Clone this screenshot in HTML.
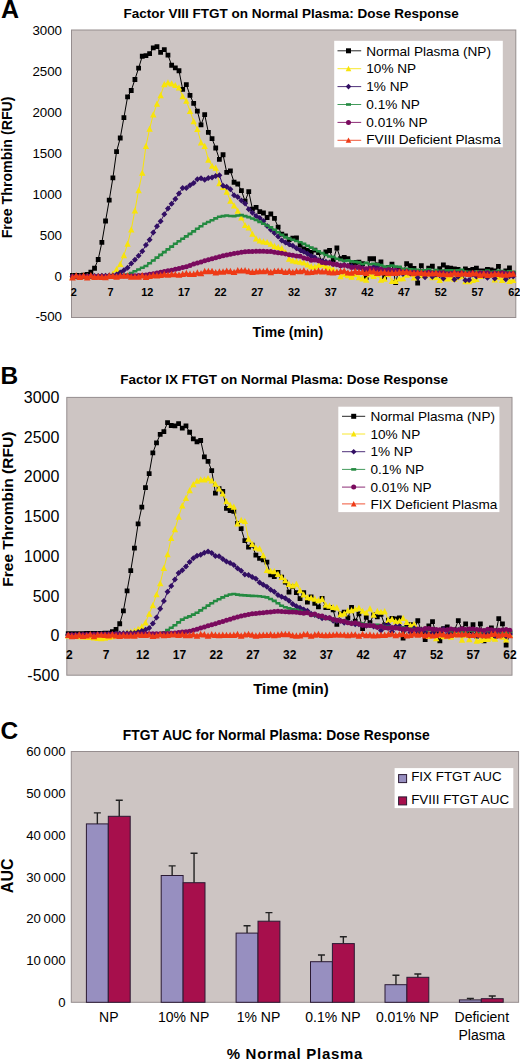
<!DOCTYPE html>
<html><head><meta charset="utf-8"><title>FTGT Dose Response</title>
<style>html,body{margin:0;padding:0;background:#fff;width:520px;height:1060px;overflow:hidden;position:relative;font-family:"Liberation Sans", sans-serif}</style>
</head><body>
<svg width="520" height="1060" viewBox="0 0 520 1060" style="position:absolute;left:0;top:0" font-family='"Liberation Sans", sans-serif' fill="#000">
<rect x="0" y="0" width="520" height="1060" fill="#fff"/>
<rect x="71.5" y="30.0" width="444.29999999999995" height="287.5" fill="#cdc5c3" stroke="#958d8e" stroke-width="1"/>
<text x="1" y="17.7" font-size="25" font-weight="bold" text-anchor="start" >A</text>
<text x="123.5" y="18.3" font-size="13.5" font-weight="bold" text-anchor="start" >Factor VIII FTGT on Normal Plasma: Dose Response</text>
<text x="62" y="34.8" font-size="13.3" font-weight="normal" text-anchor="end" >3000</text>
<text x="62" y="75.87" font-size="13.3" font-weight="normal" text-anchor="end" >2500</text>
<text x="62" y="116.94" font-size="13.3" font-weight="normal" text-anchor="end" >2000</text>
<text x="62" y="158.01" font-size="13.3" font-weight="normal" text-anchor="end" >1500</text>
<text x="62" y="199.09" font-size="13.3" font-weight="normal" text-anchor="end" >1000</text>
<text x="62" y="240.16" font-size="13.3" font-weight="normal" text-anchor="end" >500</text>
<text x="62" y="280.63" font-size="13.3" font-weight="normal" text-anchor="end" >0</text>
<text x="62" y="320.8" font-size="13.3" font-weight="normal" text-anchor="end" >-500</text>
<text transform="translate(11.5,167.4) rotate(-90)" font-size="14.2" font-weight="bold" text-anchor="middle">Free Thrombin (RFU)</text>
<text x="287.8" y="336.5" font-size="14" font-weight="bold" text-anchor="middle" >Time (min)</text>
<rect x="66.8" y="397.4" width="445.2" height="277.80000000000007" fill="#cdc5c3" stroke="#958d8e" stroke-width="1"/>
<text x="0.6" y="383.8" font-size="24.5" font-weight="bold" text-anchor="start" >B</text>
<text x="120.2" y="383.9" font-size="13.5" font-weight="bold" text-anchor="start" >Factor IX FTGT on Normal Plasma: Dose Response</text>
<text x="59.4" y="403.1" font-size="16" font-weight="normal" text-anchor="end" >3000</text>
<text x="59.4" y="442.79" font-size="16" font-weight="normal" text-anchor="end" >2500</text>
<text x="59.4" y="482.47" font-size="16" font-weight="normal" text-anchor="end" >2000</text>
<text x="59.4" y="522.16" font-size="16" font-weight="normal" text-anchor="end" >1500</text>
<text x="59.4" y="561.84" font-size="16" font-weight="normal" text-anchor="end" >1000</text>
<text x="59.4" y="601.53" font-size="16" font-weight="normal" text-anchor="end" >500</text>
<text x="59.4" y="641.21" font-size="16" font-weight="normal" text-anchor="end" >0</text>
<text x="59.4" y="680.9" font-size="16" font-weight="normal" text-anchor="end" >-500</text>
<text transform="translate(12.5,509.2) rotate(-90)" font-size="15.5" font-weight="bold" text-anchor="middle">Free Thrombin (RFU)</text>
<text x="291" y="694.2" font-size="15" font-weight="bold" text-anchor="middle" >Time (min)</text>
<polyline points="72.5,275.49 76.17,275.41 79.84,275.33 83.52,275.25 87.19,274.49 90.86,272.12 94.53,268.23 98.2,259.48 101.88,242.35 105.55,220.98 109.22,200.17 112.89,177.92 116.56,151.65 120.24,137.98 123.91,117.53 127.58,96.86 131.25,90.49 134.92,79.48 138.6,68.13 142.27,56.25 145.94,55.57 149.61,53.65 153.28,47.87 156.96,46.58 160.63,52.41 164.3,49.7 167.97,55.06 171.64,65.23 175.32,67.91 178.99,70.74 182.66,89.28 186.33,84.57 190.0,95.42 193.68,103.35 197.35,111.14 201.02,124.94 204.69,114.58 208.36,132.4 212.04,138.72 215.71,148.01 219.38,159.34 223.05,154.75 226.72,172.46 230.4,170.81 234.07,182.27 237.74,184.0 241.41,190.54 245.08,201.22 248.76,191.65 252.43,209.07 256.1,207.33 259.77,211.69 263.44,213.0 267.12,217.52 270.79,214.01 274.46,218.36 278.13,227.09 281.8,234.17 285.48,235.86 289.15,239.6 292.82,238.1 296.49,237.98 300.16,245.18 303.84,248.87 307.51,250.32 311.18,252.37 314.85,250.22 318.52,252.51 322.2,263.74 325.87,251.94 329.54,250.5 333.21,260.17 336.88,248.01 340.56,258.74 344.23,257.36 347.9,258.75 351.57,264.97 355.24,262.5 358.92,262.19 362.59,263.75 366.26,277.3 369.93,258.75 373.6,258.76 377.28,264.92 380.95,262.0 384.62,277.5 388.29,267.5 391.96,264.12 395.64,282.48 399.31,268.61 402.98,271.48 406.65,263.75 410.32,265.66 414.0,268.49 417.67,282.99 421.34,265.66 425.01,271.48 428.68,268.06 432.36,266.25 436.03,272.45 439.7,268.75 443.37,265.0 447.04,267.53 450.72,268.14 454.39,268.8 458.06,269.38 461.73,273.22 465.4,268.8 469.08,270.52 472.75,269.43 476.42,268.09 480.09,271.0 483.76,271.0 487.44,269.35 491.11,269.94 494.78,271.0 498.45,266.39 502.12,273.54 505.8,271.0 509.47,267.99 513.14,273.65" fill="none" stroke="#000000" stroke-width="1.0" stroke-linejoin="round" opacity="1.0"/>
<path d="M70.10,273.09h4.8v4.8h-4.8zM73.77,273.01h4.8v4.8h-4.8zM77.44,272.93h4.8v4.8h-4.8zM81.12,272.85h4.8v4.8h-4.8zM84.79,272.09h4.8v4.8h-4.8zM88.46,269.72h4.8v4.8h-4.8zM92.13,265.83h4.8v4.8h-4.8zM95.80,257.08h4.8v4.8h-4.8zM99.48,239.95h4.8v4.8h-4.8zM103.15,218.58h4.8v4.8h-4.8zM106.82,197.77h4.8v4.8h-4.8zM110.49,175.52h4.8v4.8h-4.8zM114.16,149.25h4.8v4.8h-4.8zM117.84,135.58h4.8v4.8h-4.8zM121.51,115.13h4.8v4.8h-4.8zM125.18,94.46h4.8v4.8h-4.8zM128.85,88.09h4.8v4.8h-4.8zM132.52,77.08h4.8v4.8h-4.8zM136.20,65.73h4.8v4.8h-4.8zM139.87,53.85h4.8v4.8h-4.8zM143.54,53.17h4.8v4.8h-4.8zM147.21,51.25h4.8v4.8h-4.8zM150.88,45.47h4.8v4.8h-4.8zM154.56,44.18h4.8v4.8h-4.8zM158.23,50.01h4.8v4.8h-4.8zM161.90,47.30h4.8v4.8h-4.8zM165.57,52.66h4.8v4.8h-4.8zM169.24,62.83h4.8v4.8h-4.8zM172.92,65.51h4.8v4.8h-4.8zM176.59,68.34h4.8v4.8h-4.8zM180.26,86.88h4.8v4.8h-4.8zM183.93,82.17h4.8v4.8h-4.8zM187.60,93.02h4.8v4.8h-4.8zM191.28,100.95h4.8v4.8h-4.8zM194.95,108.74h4.8v4.8h-4.8zM198.62,122.54h4.8v4.8h-4.8zM202.29,112.18h4.8v4.8h-4.8zM205.96,130.00h4.8v4.8h-4.8zM209.64,136.32h4.8v4.8h-4.8zM213.31,145.61h4.8v4.8h-4.8zM216.98,156.94h4.8v4.8h-4.8zM220.65,152.35h4.8v4.8h-4.8zM224.32,170.06h4.8v4.8h-4.8zM228.00,168.41h4.8v4.8h-4.8zM231.67,179.87h4.8v4.8h-4.8zM235.34,181.60h4.8v4.8h-4.8zM239.01,188.14h4.8v4.8h-4.8zM242.68,198.82h4.8v4.8h-4.8zM246.36,189.25h4.8v4.8h-4.8zM250.03,206.67h4.8v4.8h-4.8zM253.70,204.93h4.8v4.8h-4.8zM257.37,209.29h4.8v4.8h-4.8zM261.04,210.60h4.8v4.8h-4.8zM264.72,215.12h4.8v4.8h-4.8zM268.39,211.61h4.8v4.8h-4.8zM272.06,215.96h4.8v4.8h-4.8zM275.73,224.69h4.8v4.8h-4.8zM279.40,231.77h4.8v4.8h-4.8zM283.08,233.46h4.8v4.8h-4.8zM286.75,237.20h4.8v4.8h-4.8zM290.42,235.70h4.8v4.8h-4.8zM294.09,235.58h4.8v4.8h-4.8zM297.76,242.78h4.8v4.8h-4.8zM301.44,246.47h4.8v4.8h-4.8zM305.11,247.92h4.8v4.8h-4.8zM308.78,249.97h4.8v4.8h-4.8zM312.45,247.82h4.8v4.8h-4.8zM316.12,250.11h4.8v4.8h-4.8zM319.80,261.34h4.8v4.8h-4.8zM323.47,249.54h4.8v4.8h-4.8zM327.14,248.10h4.8v4.8h-4.8zM330.81,257.77h4.8v4.8h-4.8zM334.48,245.61h4.8v4.8h-4.8zM338.16,256.34h4.8v4.8h-4.8zM341.83,254.96h4.8v4.8h-4.8zM345.50,256.35h4.8v4.8h-4.8zM349.17,262.57h4.8v4.8h-4.8zM352.84,260.10h4.8v4.8h-4.8zM356.52,259.79h4.8v4.8h-4.8zM360.19,261.35h4.8v4.8h-4.8zM363.86,274.90h4.8v4.8h-4.8zM367.53,256.35h4.8v4.8h-4.8zM371.20,256.36h4.8v4.8h-4.8zM374.88,262.52h4.8v4.8h-4.8zM378.55,259.60h4.8v4.8h-4.8zM382.22,275.10h4.8v4.8h-4.8zM385.89,265.10h4.8v4.8h-4.8zM389.56,261.72h4.8v4.8h-4.8zM393.24,280.08h4.8v4.8h-4.8zM396.91,266.21h4.8v4.8h-4.8zM400.58,269.08h4.8v4.8h-4.8zM404.25,261.35h4.8v4.8h-4.8zM407.92,263.26h4.8v4.8h-4.8zM411.60,266.09h4.8v4.8h-4.8zM415.27,280.59h4.8v4.8h-4.8zM418.94,263.26h4.8v4.8h-4.8zM422.61,269.08h4.8v4.8h-4.8zM426.28,265.66h4.8v4.8h-4.8zM429.96,263.85h4.8v4.8h-4.8zM433.63,270.05h4.8v4.8h-4.8zM437.30,266.35h4.8v4.8h-4.8zM440.97,262.60h4.8v4.8h-4.8zM444.64,265.13h4.8v4.8h-4.8zM448.32,265.74h4.8v4.8h-4.8zM451.99,266.40h4.8v4.8h-4.8zM455.66,266.98h4.8v4.8h-4.8zM459.33,270.82h4.8v4.8h-4.8zM463.00,266.40h4.8v4.8h-4.8zM466.68,268.12h4.8v4.8h-4.8zM470.35,267.03h4.8v4.8h-4.8zM474.02,265.69h4.8v4.8h-4.8zM477.69,268.60h4.8v4.8h-4.8zM481.36,268.60h4.8v4.8h-4.8zM485.04,266.95h4.8v4.8h-4.8zM488.71,267.54h4.8v4.8h-4.8zM492.38,268.60h4.8v4.8h-4.8zM496.05,263.99h4.8v4.8h-4.8zM499.72,271.14h4.8v4.8h-4.8zM503.40,268.60h4.8v4.8h-4.8zM507.07,265.59h4.8v4.8h-4.8zM510.74,271.25h4.8v4.8h-4.8z" fill="#000000"/>
<polyline points="72.5,276.49 76.17,276.44 79.84,276.39 83.52,276.34 87.19,276.29 90.86,276.24 94.53,276.19 98.2,276.14 101.88,276.09 105.55,276.03 109.22,275.69 112.89,273.88 116.56,269.22 120.24,264.12 123.91,255.34 127.58,243.84 131.25,229.49 134.92,210.57 138.6,190.25 142.27,172.89 145.94,145.98 149.61,128.88 153.28,114.59 156.96,103.84 160.63,95.25 164.3,84.42 167.97,82.57 171.64,83.55 175.32,85.18 178.99,87.49 182.66,96.34 186.33,100.93 190.0,111.01 193.68,121.39 197.35,129.2 201.02,142.58 204.69,146.0 208.36,159.82 212.04,165.92 215.71,167.86 219.38,183.32 223.05,187.2 226.72,191.8 230.4,200.89 234.07,205.57 237.74,210.76 241.41,217.52 245.08,225.21 248.76,227.5 252.43,233.93 256.1,238.65 259.77,240.63 263.44,241.49 267.12,242.22 270.79,243.87 274.46,246.08 278.13,247.22 281.8,248.27 285.48,252.31 289.15,258.92 292.82,260.61 296.49,261.33 300.16,261.94 303.84,262.67 307.51,264.5 311.18,266.34 314.85,266.82 318.52,264.99 322.2,264.31 325.87,266.05 329.54,267.78 333.21,269.24 336.88,271.9 340.56,276.39 344.23,274.01 347.9,275.43 351.57,276.9 355.24,274.39 358.92,277.43 362.59,278.49 366.26,279.73 369.93,274.42 373.6,276.01 377.28,274.39 380.95,279.85 384.62,278.97 388.29,274.02 391.96,281.16 395.64,281.03 399.31,278.67 402.98,278.38 406.65,274.9 410.32,273.81 414.0,277.72 417.67,274.15 421.34,275.15 425.01,275.54 428.68,273.93 432.36,277.23 436.03,277.05 439.7,280.1 443.37,277.65 447.04,278.57 450.72,277.5 454.39,278.73 458.06,277.18 461.73,275.81 465.4,281.28 469.08,281.27 472.75,280.09 476.42,279.08 480.09,276.1 483.76,275.45 487.44,275.9 491.11,274.23 494.78,279.52 498.45,276.74 502.12,280.13 505.8,276.64 509.47,280.98 513.14,280.14" fill="none" stroke="#f8e40a" stroke-width="1.0" stroke-linejoin="round" opacity="1.0"/>
<path d="M72.50,273.19L75.70,279.39L69.30,279.39zM76.17,273.14L79.37,279.34L72.97,279.34zM79.84,273.09L83.04,279.29L76.64,279.29zM83.52,273.04L86.72,279.24L80.32,279.24zM87.19,272.99L90.39,279.19L83.99,279.19zM90.86,272.94L94.06,279.14L87.66,279.14zM94.53,272.89L97.73,279.09L91.33,279.09zM98.20,272.84L101.40,279.04L95.00,279.04zM101.88,272.79L105.08,278.99L98.68,278.99zM105.55,272.73L108.75,278.93L102.35,278.93zM109.22,272.39L112.42,278.59L106.02,278.59zM112.89,270.58L116.09,276.78L109.69,276.78zM116.56,265.92L119.76,272.12L113.36,272.12zM120.24,260.82L123.44,267.02L117.04,267.02zM123.91,252.04L127.11,258.24L120.71,258.24zM127.58,240.54L130.78,246.74L124.38,246.74zM131.25,226.19L134.45,232.39L128.05,232.39zM134.92,207.27L138.12,213.47L131.72,213.47zM138.60,186.95L141.80,193.15L135.40,193.15zM142.27,169.59L145.47,175.79L139.07,175.79zM145.94,142.68L149.14,148.88L142.74,148.88zM149.61,125.58L152.81,131.78L146.41,131.78zM153.28,111.29L156.48,117.49L150.08,117.49zM156.96,100.54L160.16,106.74L153.76,106.74zM160.63,91.95L163.83,98.15L157.43,98.15zM164.30,81.12L167.50,87.32L161.10,87.32zM167.97,79.27L171.17,85.47L164.77,85.47zM171.64,80.25L174.84,86.45L168.44,86.45zM175.32,81.88L178.52,88.08L172.12,88.08zM178.99,84.19L182.19,90.39L175.79,90.39zM182.66,93.04L185.86,99.24L179.46,99.24zM186.33,97.63L189.53,103.83L183.13,103.83zM190.00,107.71L193.20,113.91L186.80,113.91zM193.68,118.09L196.88,124.29L190.48,124.29zM197.35,125.90L200.55,132.10L194.15,132.10zM201.02,139.28L204.22,145.48L197.82,145.48zM204.69,142.70L207.89,148.90L201.49,148.90zM208.36,156.52L211.56,162.72L205.16,162.72zM212.04,162.62L215.24,168.82L208.84,168.82zM215.71,164.56L218.91,170.76L212.51,170.76zM219.38,180.02L222.58,186.22L216.18,186.22zM223.05,183.90L226.25,190.10L219.85,190.10zM226.72,188.50L229.92,194.70L223.52,194.70zM230.40,197.59L233.60,203.79L227.20,203.79zM234.07,202.27L237.27,208.47L230.87,208.47zM237.74,207.46L240.94,213.66L234.54,213.66zM241.41,214.22L244.61,220.42L238.21,220.42zM245.08,221.91L248.28,228.11L241.88,228.11zM248.76,224.20L251.96,230.40L245.56,230.40zM252.43,230.63L255.63,236.83L249.23,236.83zM256.10,235.35L259.30,241.55L252.90,241.55zM259.77,237.33L262.97,243.53L256.57,243.53zM263.44,238.19L266.64,244.39L260.24,244.39zM267.12,238.92L270.32,245.12L263.92,245.12zM270.79,240.57L273.99,246.77L267.59,246.77zM274.46,242.78L277.66,248.98L271.26,248.98zM278.13,243.92L281.33,250.12L274.93,250.12zM281.80,244.97L285.00,251.17L278.60,251.17zM285.48,249.01L288.68,255.21L282.28,255.21zM289.15,255.62L292.35,261.82L285.95,261.82zM292.82,257.31L296.02,263.51L289.62,263.51zM296.49,258.03L299.69,264.23L293.29,264.23zM300.16,258.64L303.36,264.84L296.96,264.84zM303.84,259.37L307.04,265.57L300.64,265.57zM307.51,261.20L310.71,267.40L304.31,267.40zM311.18,263.04L314.38,269.24L307.98,269.24zM314.85,263.52L318.05,269.72L311.65,269.72zM318.52,261.69L321.72,267.89L315.32,267.89zM322.20,261.01L325.40,267.21L319.00,267.21zM325.87,262.75L329.07,268.95L322.67,268.95zM329.54,264.48L332.74,270.68L326.34,270.68zM333.21,265.94L336.41,272.14L330.01,272.14zM336.88,268.60L340.08,274.80L333.68,274.80zM340.56,273.09L343.76,279.29L337.36,279.29zM344.23,270.71L347.43,276.91L341.03,276.91zM347.90,272.13L351.10,278.33L344.70,278.33zM351.57,273.60L354.77,279.80L348.37,279.80zM355.24,271.09L358.44,277.29L352.04,277.29zM358.92,274.13L362.12,280.33L355.72,280.33zM362.59,275.19L365.79,281.39L359.39,281.39zM366.26,276.43L369.46,282.63L363.06,282.63zM369.93,271.12L373.13,277.32L366.73,277.32zM373.60,272.71L376.80,278.91L370.40,278.91zM377.28,271.09L380.48,277.29L374.08,277.29zM380.95,276.55L384.15,282.75L377.75,282.75zM384.62,275.67L387.82,281.87L381.42,281.87zM388.29,270.72L391.49,276.92L385.09,276.92zM391.96,277.86L395.16,284.06L388.76,284.06zM395.64,277.73L398.84,283.93L392.44,283.93zM399.31,275.37L402.51,281.57L396.11,281.57zM402.98,275.08L406.18,281.28L399.78,281.28zM406.65,271.60L409.85,277.80L403.45,277.80zM410.32,270.51L413.52,276.71L407.12,276.71zM414.00,274.42L417.20,280.62L410.80,280.62zM417.67,270.85L420.87,277.05L414.47,277.05zM421.34,271.85L424.54,278.05L418.14,278.05zM425.01,272.24L428.21,278.44L421.81,278.44zM428.68,270.63L431.88,276.83L425.48,276.83zM432.36,273.93L435.56,280.13L429.16,280.13zM436.03,273.75L439.23,279.95L432.83,279.95zM439.70,276.80L442.90,283.00L436.50,283.00zM443.37,274.35L446.57,280.55L440.17,280.55zM447.04,275.27L450.24,281.47L443.84,281.47zM450.72,274.20L453.92,280.40L447.52,280.40zM454.39,275.43L457.59,281.63L451.19,281.63zM458.06,273.88L461.26,280.08L454.86,280.08zM461.73,272.51L464.93,278.71L458.53,278.71zM465.40,277.98L468.60,284.18L462.20,284.18zM469.08,277.97L472.28,284.17L465.88,284.17zM472.75,276.79L475.95,282.99L469.55,282.99zM476.42,275.78L479.62,281.98L473.22,281.98zM480.09,272.80L483.29,279.00L476.89,279.00zM483.76,272.15L486.96,278.35L480.56,278.35zM487.44,272.60L490.64,278.80L484.24,278.80zM491.11,270.93L494.31,277.13L487.91,277.13zM494.78,276.22L497.98,282.42L491.58,282.42zM498.45,273.44L501.65,279.64L495.25,279.64zM502.12,276.83L505.32,283.03L498.92,283.03zM505.80,273.34L509.00,279.54L502.60,279.54zM509.47,277.68L512.67,283.88L506.27,283.88zM513.14,276.84L516.34,283.04L509.94,283.04z" fill="#f8e40a"/>
<polyline points="72.5,276.49 76.17,276.4 79.84,276.31 83.52,276.23 87.19,276.14 90.86,276.05 94.53,275.96 98.2,275.88 101.88,275.79 105.55,275.7 109.22,275.61 112.89,275.53 116.56,274.54 120.24,272.55 123.91,270.17 127.58,267.64 131.25,263.6 134.92,259.83 138.6,255.82 142.27,251.22 145.94,245.1 149.61,239.7 153.28,232.5915891385135 156.96,226.25305306522435 160.63,221.303169213417 164.3,214.3599081385804 167.97,208.5816106032804 171.64,203.8216040992424 175.32,198.91550990684067 178.99,193.4975966937777 182.66,187.88582123881815 186.33,187.894682434451 190.0,185.18627281345255 193.68,182.98335918230194 197.35,179.25361495169457 201.02,178.23028390202876 204.69,179.63654628104592 208.36,178.09662653399434 212.04,177.47662261422914 215.71,175.88188580383695 219.38,175.18872085942 223.05,185.82359521705183 226.72,186.71678904670225 230.4,189.18477821610804 234.07,195.13330231724171 237.74,197.11829843229535 241.41,200.41349410802783 245.08,203.3936229343385 248.76,209.16292431941312 252.43,212.67010417279204 256.1,215.93344831705704 259.77,217.88085107914455 263.44,221.1119249558759 267.12,226.05246222536843 270.79,229.77042189878134 274.46,233.04215059257635 278.13,236.51592565118702 281.8,240.4099055696788 285.48,242.52202291481623 289.15,244.17187965852006 292.82,245.65769917161091 296.49,248.24315643194873 300.16,250.09144095757628 303.84,251.66552313269847 307.51,253.86372705644905 311.18,255.92255800337958 314.85,257.44981335840527 318.52,260.13791239722946 322.2,261.1091459799767 325.87,261.6813770569677 329.54,262.43442444992144 333.21,263.93342477500823 336.88,264.53940801794835 340.56,265.46242746102297 344.23,264.7928490319719 347.9,265.74770936638566 351.57,265.97104655489306 355.24,267.7106870823057 358.92,267.96509318185883 362.59,268.06 366.26,269.88 369.93,270.35 373.6,267.08 377.28,266.57 380.95,269.52 384.62,269.22 388.29,273.37 391.96,272.95 395.64,272.77 399.31,272.9 402.98,274.07 406.65,270.9 410.32,273.4 414.0,271.9 417.67,277.45 421.34,271.75 425.01,277.29 428.68,272.32 432.36,276.83 436.03,274.61 439.7,275.31 443.37,278.51 447.04,272.87 450.72,273.28 454.39,279.38 458.06,276.66 461.73,273.86 465.4,280.26 469.08,280.1 472.75,274.29 476.42,276.46 480.09,274.45 483.76,275.69 487.44,277.85 491.11,274.64 494.78,278.38 498.45,273.86 502.12,274.7 505.8,279.21 509.47,276.3 513.14,276.43" fill="none" stroke="#320f64" stroke-width="1.0" stroke-linejoin="round" opacity="1.0"/>
<path d="M72.50,273.49L75.50,276.49L72.50,279.49L69.50,276.49zM76.17,273.40L79.17,276.40L76.17,279.40L73.17,276.40zM79.84,273.31L82.84,276.31L79.84,279.31L76.84,276.31zM83.52,273.23L86.52,276.23L83.52,279.23L80.52,276.23zM87.19,273.14L90.19,276.14L87.19,279.14L84.19,276.14zM90.86,273.05L93.86,276.05L90.86,279.05L87.86,276.05zM94.53,272.96L97.53,275.96L94.53,278.96L91.53,275.96zM98.20,272.88L101.20,275.88L98.20,278.88L95.20,275.88zM101.88,272.79L104.88,275.79L101.88,278.79L98.88,275.79zM105.55,272.70L108.55,275.70L105.55,278.70L102.55,275.70zM109.22,272.61L112.22,275.61L109.22,278.61L106.22,275.61zM112.89,272.53L115.89,275.53L112.89,278.53L109.89,275.53zM116.56,271.54L119.56,274.54L116.56,277.54L113.56,274.54zM120.24,269.55L123.24,272.55L120.24,275.55L117.24,272.55zM123.91,267.17L126.91,270.17L123.91,273.17L120.91,270.17zM127.58,264.64L130.58,267.64L127.58,270.64L124.58,267.64zM131.25,260.60L134.25,263.60L131.25,266.60L128.25,263.60zM134.92,256.83L137.92,259.83L134.92,262.83L131.92,259.83zM138.60,252.82L141.60,255.82L138.60,258.82L135.60,255.82zM142.27,248.22L145.27,251.22L142.27,254.22L139.27,251.22zM145.94,242.10L148.94,245.10L145.94,248.10L142.94,245.10zM149.61,236.70L152.61,239.70L149.61,242.70L146.61,239.70zM153.28,229.59L156.28,232.59L153.28,235.59L150.28,232.59zM156.96,223.25L159.96,226.25L156.96,229.25L153.96,226.25zM160.63,218.30L163.63,221.30L160.63,224.30L157.63,221.30zM164.30,211.36L167.30,214.36L164.30,217.36L161.30,214.36zM167.97,205.58L170.97,208.58L167.97,211.58L164.97,208.58zM171.64,200.82L174.64,203.82L171.64,206.82L168.64,203.82zM175.32,195.92L178.32,198.92L175.32,201.92L172.32,198.92zM178.99,190.50L181.99,193.50L178.99,196.50L175.99,193.50zM182.66,184.89L185.66,187.89L182.66,190.89L179.66,187.89zM186.33,184.89L189.33,187.89L186.33,190.89L183.33,187.89zM190.00,182.19L193.00,185.19L190.00,188.19L187.00,185.19zM193.68,179.98L196.68,182.98L193.68,185.98L190.68,182.98zM197.35,176.25L200.35,179.25L197.35,182.25L194.35,179.25zM201.02,175.23L204.02,178.23L201.02,181.23L198.02,178.23zM204.69,176.64L207.69,179.64L204.69,182.64L201.69,179.64zM208.36,175.10L211.36,178.10L208.36,181.10L205.36,178.10zM212.04,174.48L215.04,177.48L212.04,180.48L209.04,177.48zM215.71,172.88L218.71,175.88L215.71,178.88L212.71,175.88zM219.38,172.19L222.38,175.19L219.38,178.19L216.38,175.19zM223.05,182.82L226.05,185.82L223.05,188.82L220.05,185.82zM226.72,183.72L229.72,186.72L226.72,189.72L223.72,186.72zM230.40,186.18L233.40,189.18L230.40,192.18L227.40,189.18zM234.07,192.13L237.07,195.13L234.07,198.13L231.07,195.13zM237.74,194.12L240.74,197.12L237.74,200.12L234.74,197.12zM241.41,197.41L244.41,200.41L241.41,203.41L238.41,200.41zM245.08,200.39L248.08,203.39L245.08,206.39L242.08,203.39zM248.76,206.16L251.76,209.16L248.76,212.16L245.76,209.16zM252.43,209.67L255.43,212.67L252.43,215.67L249.43,212.67zM256.10,212.93L259.10,215.93L256.10,218.93L253.10,215.93zM259.77,214.88L262.77,217.88L259.77,220.88L256.77,217.88zM263.44,218.11L266.44,221.11L263.44,224.11L260.44,221.11zM267.12,223.05L270.12,226.05L267.12,229.05L264.12,226.05zM270.79,226.77L273.79,229.77L270.79,232.77L267.79,229.77zM274.46,230.04L277.46,233.04L274.46,236.04L271.46,233.04zM278.13,233.52L281.13,236.52L278.13,239.52L275.13,236.52zM281.80,237.41L284.80,240.41L281.80,243.41L278.80,240.41zM285.48,239.52L288.48,242.52L285.48,245.52L282.48,242.52zM289.15,241.17L292.15,244.17L289.15,247.17L286.15,244.17zM292.82,242.66L295.82,245.66L292.82,248.66L289.82,245.66zM296.49,245.24L299.49,248.24L296.49,251.24L293.49,248.24zM300.16,247.09L303.16,250.09L300.16,253.09L297.16,250.09zM303.84,248.67L306.84,251.67L303.84,254.67L300.84,251.67zM307.51,250.86L310.51,253.86L307.51,256.86L304.51,253.86zM311.18,252.92L314.18,255.92L311.18,258.92L308.18,255.92zM314.85,254.45L317.85,257.45L314.85,260.45L311.85,257.45zM318.52,257.14L321.52,260.14L318.52,263.14L315.52,260.14zM322.20,258.11L325.20,261.11L322.20,264.11L319.20,261.11zM325.87,258.68L328.87,261.68L325.87,264.68L322.87,261.68zM329.54,259.43L332.54,262.43L329.54,265.43L326.54,262.43zM333.21,260.93L336.21,263.93L333.21,266.93L330.21,263.93zM336.88,261.54L339.88,264.54L336.88,267.54L333.88,264.54zM340.56,262.46L343.56,265.46L340.56,268.46L337.56,265.46zM344.23,261.79L347.23,264.79L344.23,267.79L341.23,264.79zM347.90,262.75L350.90,265.75L347.90,268.75L344.90,265.75zM351.57,262.97L354.57,265.97L351.57,268.97L348.57,265.97zM355.24,264.71L358.24,267.71L355.24,270.71L352.24,267.71zM358.92,264.97L361.92,267.97L358.92,270.97L355.92,267.97zM362.59,265.06L365.59,268.06L362.59,271.06L359.59,268.06zM366.26,266.88L369.26,269.88L366.26,272.88L363.26,269.88zM369.93,267.35L372.93,270.35L369.93,273.35L366.93,270.35zM373.60,264.08L376.60,267.08L373.60,270.08L370.60,267.08zM377.28,263.57L380.28,266.57L377.28,269.57L374.28,266.57zM380.95,266.52L383.95,269.52L380.95,272.52L377.95,269.52zM384.62,266.22L387.62,269.22L384.62,272.22L381.62,269.22zM388.29,270.37L391.29,273.37L388.29,276.37L385.29,273.37zM391.96,269.95L394.96,272.95L391.96,275.95L388.96,272.95zM395.64,269.77L398.64,272.77L395.64,275.77L392.64,272.77zM399.31,269.90L402.31,272.90L399.31,275.90L396.31,272.90zM402.98,271.07L405.98,274.07L402.98,277.07L399.98,274.07zM406.65,267.90L409.65,270.90L406.65,273.90L403.65,270.90zM410.32,270.40L413.32,273.40L410.32,276.40L407.32,273.40zM414.00,268.90L417.00,271.90L414.00,274.90L411.00,271.90zM417.67,274.45L420.67,277.45L417.67,280.45L414.67,277.45zM421.34,268.75L424.34,271.75L421.34,274.75L418.34,271.75zM425.01,274.29L428.01,277.29L425.01,280.29L422.01,277.29zM428.68,269.32L431.68,272.32L428.68,275.32L425.68,272.32zM432.36,273.83L435.36,276.83L432.36,279.83L429.36,276.83zM436.03,271.61L439.03,274.61L436.03,277.61L433.03,274.61zM439.70,272.31L442.70,275.31L439.70,278.31L436.70,275.31zM443.37,275.51L446.37,278.51L443.37,281.51L440.37,278.51zM447.04,269.87L450.04,272.87L447.04,275.87L444.04,272.87zM450.72,270.28L453.72,273.28L450.72,276.28L447.72,273.28zM454.39,276.38L457.39,279.38L454.39,282.38L451.39,279.38zM458.06,273.66L461.06,276.66L458.06,279.66L455.06,276.66zM461.73,270.86L464.73,273.86L461.73,276.86L458.73,273.86zM465.40,277.26L468.40,280.26L465.40,283.26L462.40,280.26zM469.08,277.10L472.08,280.10L469.08,283.10L466.08,280.10zM472.75,271.29L475.75,274.29L472.75,277.29L469.75,274.29zM476.42,273.46L479.42,276.46L476.42,279.46L473.42,276.46zM480.09,271.45L483.09,274.45L480.09,277.45L477.09,274.45zM483.76,272.69L486.76,275.69L483.76,278.69L480.76,275.69zM487.44,274.85L490.44,277.85L487.44,280.85L484.44,277.85zM491.11,271.64L494.11,274.64L491.11,277.64L488.11,274.64zM494.78,275.38L497.78,278.38L494.78,281.38L491.78,278.38zM498.45,270.86L501.45,273.86L498.45,276.86L495.45,273.86zM502.12,271.70L505.12,274.70L502.12,277.70L499.12,274.70zM505.80,276.21L508.80,279.21L505.80,282.21L502.80,279.21zM509.47,273.30L512.47,276.30L509.47,279.30L506.47,276.30zM513.14,273.43L516.14,276.43L513.14,279.43L510.14,276.43z" fill="#320f64"/>
<polyline points="72.5,276.49 76.17,276.41 79.84,276.34 83.52,276.26 87.19,276.18 90.86,276.11 94.53,276.03 98.2,275.95 101.88,275.88 105.55,275.8 109.22,275.72 112.89,275.65 116.56,275.57 120.24,275.47 123.91,274.95 127.58,274.43 131.25,272.99 134.92,271.25 138.6,269.51 142.27,267.77 145.94,266.03 149.61,263.25 153.28,260.46 156.96,257.67 160.63,254.88 164.3,252.11 167.97,249.35 171.64,246.58 175.32,243.82 178.99,241.29 182.66,238.82 186.33,236.34 190.0,233.87 193.68,231.33 197.35,228.76 201.02,226.19 204.69,223.82 208.36,222.03 212.04,220.23 215.71,218.4 219.38,216.82 223.05,216.09 226.72,215.57 230.4,215.94 234.07,216.16 237.74,215.54 241.41,215.11 245.08,216.09 248.76,217.1 252.43,218.57 256.1,220.05 259.77,221.89 263.44,223.72 267.12,225.56 270.79,227.39 274.46,229.81 278.13,232.25 281.8,234.7 285.48,237.15 289.15,238.55 292.82,239.77 296.49,241.0 300.16,242.22 303.84,243.92 307.51,245.75 311.18,247.59 314.85,249.43 318.52,251.26 322.2,253.1 325.87,254.93 329.54,256.51 333.21,256.85 336.88,258.79 340.56,259.71 344.23,261.02 347.9,260.35 351.57,261.37 355.24,261.83 358.92,262.38 362.59,263.97 366.26,262.89 369.93,264.22 373.6,263.82 377.28,264.38 380.95,265.14 384.62,266.58 388.29,266.48 391.96,265.52 395.64,266.6 399.31,266.72 402.98,268.76 406.65,268.92 410.32,269.22 414.0,269.57 417.67,269.68 421.34,270.48 425.01,270.41 428.68,269.42 432.36,270.93 436.03,270.15 439.7,270.88 443.37,270.51 447.04,270.28 450.72,270.21 454.39,270.46 458.06,270.27 461.73,269.88 465.4,271.66 469.08,271.69 472.75,272.23 476.42,271.6 480.09,271.36 483.76,271.91 487.44,270.52 491.11,271.9 494.78,271.43 498.45,270.87 502.12,271.02 505.8,271.87 509.47,271.3 513.14,271.88" fill="none" stroke="#238a40" stroke-width="1.3" stroke-linejoin="round" opacity="1.0"/>
<path d="M70.00,275.19h5.0v2.6h-5.0zM73.67,275.11h5.0v2.6h-5.0zM77.34,275.04h5.0v2.6h-5.0zM81.02,274.96h5.0v2.6h-5.0zM84.69,274.88h5.0v2.6h-5.0zM88.36,274.81h5.0v2.6h-5.0zM92.03,274.73h5.0v2.6h-5.0zM95.70,274.65h5.0v2.6h-5.0zM99.38,274.58h5.0v2.6h-5.0zM103.05,274.50h5.0v2.6h-5.0zM106.72,274.42h5.0v2.6h-5.0zM110.39,274.35h5.0v2.6h-5.0zM114.06,274.27h5.0v2.6h-5.0zM117.74,274.17h5.0v2.6h-5.0zM121.41,273.65h5.0v2.6h-5.0zM125.08,273.13h5.0v2.6h-5.0zM128.75,271.69h5.0v2.6h-5.0zM132.42,269.95h5.0v2.6h-5.0zM136.10,268.21h5.0v2.6h-5.0zM139.77,266.47h5.0v2.6h-5.0zM143.44,264.73h5.0v2.6h-5.0zM147.11,261.95h5.0v2.6h-5.0zM150.78,259.16h5.0v2.6h-5.0zM154.46,256.37h5.0v2.6h-5.0zM158.13,253.58h5.0v2.6h-5.0zM161.80,250.81h5.0v2.6h-5.0zM165.47,248.05h5.0v2.6h-5.0zM169.14,245.28h5.0v2.6h-5.0zM172.82,242.52h5.0v2.6h-5.0zM176.49,239.99h5.0v2.6h-5.0zM180.16,237.52h5.0v2.6h-5.0zM183.83,235.04h5.0v2.6h-5.0zM187.50,232.57h5.0v2.6h-5.0zM191.18,230.03h5.0v2.6h-5.0zM194.85,227.46h5.0v2.6h-5.0zM198.52,224.89h5.0v2.6h-5.0zM202.19,222.52h5.0v2.6h-5.0zM205.86,220.73h5.0v2.6h-5.0zM209.54,218.93h5.0v2.6h-5.0zM213.21,217.10h5.0v2.6h-5.0zM216.88,215.52h5.0v2.6h-5.0zM220.55,214.79h5.0v2.6h-5.0zM224.22,214.27h5.0v2.6h-5.0zM227.90,214.64h5.0v2.6h-5.0zM231.57,214.86h5.0v2.6h-5.0zM235.24,214.24h5.0v2.6h-5.0zM238.91,213.81h5.0v2.6h-5.0zM242.58,214.79h5.0v2.6h-5.0zM246.26,215.80h5.0v2.6h-5.0zM249.93,217.27h5.0v2.6h-5.0zM253.60,218.75h5.0v2.6h-5.0zM257.27,220.59h5.0v2.6h-5.0zM260.94,222.42h5.0v2.6h-5.0zM264.62,224.26h5.0v2.6h-5.0zM268.29,226.09h5.0v2.6h-5.0zM271.96,228.51h5.0v2.6h-5.0zM275.63,230.95h5.0v2.6h-5.0zM279.30,233.40h5.0v2.6h-5.0zM282.98,235.85h5.0v2.6h-5.0zM286.65,237.25h5.0v2.6h-5.0zM290.32,238.47h5.0v2.6h-5.0zM293.99,239.70h5.0v2.6h-5.0zM297.66,240.92h5.0v2.6h-5.0zM301.34,242.62h5.0v2.6h-5.0zM305.01,244.45h5.0v2.6h-5.0zM308.68,246.29h5.0v2.6h-5.0zM312.35,248.13h5.0v2.6h-5.0zM316.02,249.96h5.0v2.6h-5.0zM319.70,251.80h5.0v2.6h-5.0zM323.37,253.63h5.0v2.6h-5.0zM327.04,255.21h5.0v2.6h-5.0zM330.71,255.55h5.0v2.6h-5.0zM334.38,257.49h5.0v2.6h-5.0zM338.06,258.41h5.0v2.6h-5.0zM341.73,259.72h5.0v2.6h-5.0zM345.40,259.05h5.0v2.6h-5.0zM349.07,260.07h5.0v2.6h-5.0zM352.74,260.53h5.0v2.6h-5.0zM356.42,261.08h5.0v2.6h-5.0zM360.09,262.67h5.0v2.6h-5.0zM363.76,261.59h5.0v2.6h-5.0zM367.43,262.92h5.0v2.6h-5.0zM371.10,262.52h5.0v2.6h-5.0zM374.78,263.08h5.0v2.6h-5.0zM378.45,263.84h5.0v2.6h-5.0zM382.12,265.28h5.0v2.6h-5.0zM385.79,265.18h5.0v2.6h-5.0zM389.46,264.22h5.0v2.6h-5.0zM393.14,265.30h5.0v2.6h-5.0zM396.81,265.42h5.0v2.6h-5.0zM400.48,267.46h5.0v2.6h-5.0zM404.15,267.62h5.0v2.6h-5.0zM407.82,267.92h5.0v2.6h-5.0zM411.50,268.27h5.0v2.6h-5.0zM415.17,268.38h5.0v2.6h-5.0zM418.84,269.18h5.0v2.6h-5.0zM422.51,269.11h5.0v2.6h-5.0zM426.18,268.12h5.0v2.6h-5.0zM429.86,269.63h5.0v2.6h-5.0zM433.53,268.85h5.0v2.6h-5.0zM437.20,269.58h5.0v2.6h-5.0zM440.87,269.21h5.0v2.6h-5.0zM444.54,268.98h5.0v2.6h-5.0zM448.22,268.91h5.0v2.6h-5.0zM451.89,269.16h5.0v2.6h-5.0zM455.56,268.97h5.0v2.6h-5.0zM459.23,268.58h5.0v2.6h-5.0zM462.90,270.36h5.0v2.6h-5.0zM466.58,270.39h5.0v2.6h-5.0zM470.25,270.93h5.0v2.6h-5.0zM473.92,270.30h5.0v2.6h-5.0zM477.59,270.06h5.0v2.6h-5.0zM481.26,270.61h5.0v2.6h-5.0zM484.94,269.22h5.0v2.6h-5.0zM488.61,270.60h5.0v2.6h-5.0zM492.28,270.13h5.0v2.6h-5.0zM495.95,269.57h5.0v2.6h-5.0zM499.62,269.72h5.0v2.6h-5.0zM503.30,270.57h5.0v2.6h-5.0zM506.97,270.00h5.0v2.6h-5.0zM510.64,270.58h5.0v2.6h-5.0z" fill="#238a40"/>
<polyline points="72.5,276.5 76.17,276.46 79.84,276.43 83.52,276.4 87.19,276.37 90.86,276.34 94.53,276.31 98.2,276.27 101.88,276.24 105.55,276.21 109.22,276.18 112.89,276.15 116.56,276.12 120.24,276.08 123.91,276.05 127.58,276.02 131.25,275.92 134.92,275.69 138.6,275.46 142.27,275.23 145.94,275.0 149.61,274.32 153.28,273.63 156.96,272.94 160.63,272.25 164.3,271.56 167.97,270.87 171.64,270.15 175.32,269.29 178.99,268.44 182.66,267.58 186.33,266.68 190.0,265.4 193.68,264.11 197.35,262.92 201.02,261.89 204.69,260.87 208.36,259.84 212.04,258.78 215.71,257.72 219.38,256.67 223.05,255.77 226.72,255.01 230.4,254.25 234.07,253.51 237.74,252.92 241.41,252.33 245.08,251.75 248.76,251.51 252.43,251.39 256.1,251.28 259.77,251.24 263.44,251.36 267.12,251.48 270.79,251.59 274.46,252.13 278.13,252.68 281.8,253.24 285.48,253.9 289.15,254.63 292.82,255.36 296.49,256.11 300.16,256.3 303.84,258.08 307.51,258.82 311.18,260.15 314.85,259.96 318.52,260.82 322.2,262.4 325.87,262.95 329.54,263.06 333.21,264.35 336.88,264.57 340.56,265.86 344.23,265.28 347.9,265.89 351.57,267.41 355.24,266.98 358.92,267.27 362.59,268.58 366.26,268.73 369.93,268.25 373.6,269.19 377.28,269.66 380.95,269.16 384.62,270.23 388.29,269.68 391.96,270.32 395.64,270.2 399.31,270.69 402.98,272.22 406.65,271.6 410.32,272.83 414.0,272.24 417.67,272.72 421.34,273.25 425.01,273.06 428.68,272.25 432.36,273.12 436.03,273.3 439.7,272.69 443.37,272.66 447.04,274.01 450.72,273.52 454.39,273.01 458.06,273.42 461.73,273.05 465.4,273.98 469.08,273.5 472.75,272.86 476.42,274.01 480.09,272.84 483.76,273.15 487.44,272.74 491.11,273.88 494.78,272.88 498.45,273.54 502.12,272.85 505.8,273.47 509.47,273.8 513.14,273.56" fill="none" stroke="#7a0a5e" stroke-width="1.0" stroke-linejoin="round" opacity="1.0"/>
<path d="M70.00,276.50a2.5,2.5 0 1,0 5,0a2.5,2.5 0 1,0 -5,0zM73.67,276.46a2.5,2.5 0 1,0 5,0a2.5,2.5 0 1,0 -5,0zM77.34,276.43a2.5,2.5 0 1,0 5,0a2.5,2.5 0 1,0 -5,0zM81.02,276.40a2.5,2.5 0 1,0 5,0a2.5,2.5 0 1,0 -5,0zM84.69,276.37a2.5,2.5 0 1,0 5,0a2.5,2.5 0 1,0 -5,0zM88.36,276.34a2.5,2.5 0 1,0 5,0a2.5,2.5 0 1,0 -5,0zM92.03,276.31a2.5,2.5 0 1,0 5,0a2.5,2.5 0 1,0 -5,0zM95.70,276.27a2.5,2.5 0 1,0 5,0a2.5,2.5 0 1,0 -5,0zM99.38,276.24a2.5,2.5 0 1,0 5,0a2.5,2.5 0 1,0 -5,0zM103.05,276.21a2.5,2.5 0 1,0 5,0a2.5,2.5 0 1,0 -5,0zM106.72,276.18a2.5,2.5 0 1,0 5,0a2.5,2.5 0 1,0 -5,0zM110.39,276.15a2.5,2.5 0 1,0 5,0a2.5,2.5 0 1,0 -5,0zM114.06,276.12a2.5,2.5 0 1,0 5,0a2.5,2.5 0 1,0 -5,0zM117.74,276.08a2.5,2.5 0 1,0 5,0a2.5,2.5 0 1,0 -5,0zM121.41,276.05a2.5,2.5 0 1,0 5,0a2.5,2.5 0 1,0 -5,0zM125.08,276.02a2.5,2.5 0 1,0 5,0a2.5,2.5 0 1,0 -5,0zM128.75,275.92a2.5,2.5 0 1,0 5,0a2.5,2.5 0 1,0 -5,0zM132.42,275.69a2.5,2.5 0 1,0 5,0a2.5,2.5 0 1,0 -5,0zM136.10,275.46a2.5,2.5 0 1,0 5,0a2.5,2.5 0 1,0 -5,0zM139.77,275.23a2.5,2.5 0 1,0 5,0a2.5,2.5 0 1,0 -5,0zM143.44,275.00a2.5,2.5 0 1,0 5,0a2.5,2.5 0 1,0 -5,0zM147.11,274.32a2.5,2.5 0 1,0 5,0a2.5,2.5 0 1,0 -5,0zM150.78,273.63a2.5,2.5 0 1,0 5,0a2.5,2.5 0 1,0 -5,0zM154.46,272.94a2.5,2.5 0 1,0 5,0a2.5,2.5 0 1,0 -5,0zM158.13,272.25a2.5,2.5 0 1,0 5,0a2.5,2.5 0 1,0 -5,0zM161.80,271.56a2.5,2.5 0 1,0 5,0a2.5,2.5 0 1,0 -5,0zM165.47,270.87a2.5,2.5 0 1,0 5,0a2.5,2.5 0 1,0 -5,0zM169.14,270.15a2.5,2.5 0 1,0 5,0a2.5,2.5 0 1,0 -5,0zM172.82,269.29a2.5,2.5 0 1,0 5,0a2.5,2.5 0 1,0 -5,0zM176.49,268.44a2.5,2.5 0 1,0 5,0a2.5,2.5 0 1,0 -5,0zM180.16,267.58a2.5,2.5 0 1,0 5,0a2.5,2.5 0 1,0 -5,0zM183.83,266.68a2.5,2.5 0 1,0 5,0a2.5,2.5 0 1,0 -5,0zM187.50,265.40a2.5,2.5 0 1,0 5,0a2.5,2.5 0 1,0 -5,0zM191.18,264.11a2.5,2.5 0 1,0 5,0a2.5,2.5 0 1,0 -5,0zM194.85,262.92a2.5,2.5 0 1,0 5,0a2.5,2.5 0 1,0 -5,0zM198.52,261.89a2.5,2.5 0 1,0 5,0a2.5,2.5 0 1,0 -5,0zM202.19,260.87a2.5,2.5 0 1,0 5,0a2.5,2.5 0 1,0 -5,0zM205.86,259.84a2.5,2.5 0 1,0 5,0a2.5,2.5 0 1,0 -5,0zM209.54,258.78a2.5,2.5 0 1,0 5,0a2.5,2.5 0 1,0 -5,0zM213.21,257.72a2.5,2.5 0 1,0 5,0a2.5,2.5 0 1,0 -5,0zM216.88,256.67a2.5,2.5 0 1,0 5,0a2.5,2.5 0 1,0 -5,0zM220.55,255.77a2.5,2.5 0 1,0 5,0a2.5,2.5 0 1,0 -5,0zM224.22,255.01a2.5,2.5 0 1,0 5,0a2.5,2.5 0 1,0 -5,0zM227.90,254.25a2.5,2.5 0 1,0 5,0a2.5,2.5 0 1,0 -5,0zM231.57,253.51a2.5,2.5 0 1,0 5,0a2.5,2.5 0 1,0 -5,0zM235.24,252.92a2.5,2.5 0 1,0 5,0a2.5,2.5 0 1,0 -5,0zM238.91,252.33a2.5,2.5 0 1,0 5,0a2.5,2.5 0 1,0 -5,0zM242.58,251.75a2.5,2.5 0 1,0 5,0a2.5,2.5 0 1,0 -5,0zM246.26,251.51a2.5,2.5 0 1,0 5,0a2.5,2.5 0 1,0 -5,0zM249.93,251.39a2.5,2.5 0 1,0 5,0a2.5,2.5 0 1,0 -5,0zM253.60,251.28a2.5,2.5 0 1,0 5,0a2.5,2.5 0 1,0 -5,0zM257.27,251.24a2.5,2.5 0 1,0 5,0a2.5,2.5 0 1,0 -5,0zM260.94,251.36a2.5,2.5 0 1,0 5,0a2.5,2.5 0 1,0 -5,0zM264.62,251.48a2.5,2.5 0 1,0 5,0a2.5,2.5 0 1,0 -5,0zM268.29,251.59a2.5,2.5 0 1,0 5,0a2.5,2.5 0 1,0 -5,0zM271.96,252.13a2.5,2.5 0 1,0 5,0a2.5,2.5 0 1,0 -5,0zM275.63,252.68a2.5,2.5 0 1,0 5,0a2.5,2.5 0 1,0 -5,0zM279.30,253.24a2.5,2.5 0 1,0 5,0a2.5,2.5 0 1,0 -5,0zM282.98,253.90a2.5,2.5 0 1,0 5,0a2.5,2.5 0 1,0 -5,0zM286.65,254.63a2.5,2.5 0 1,0 5,0a2.5,2.5 0 1,0 -5,0zM290.32,255.36a2.5,2.5 0 1,0 5,0a2.5,2.5 0 1,0 -5,0zM293.99,256.11a2.5,2.5 0 1,0 5,0a2.5,2.5 0 1,0 -5,0zM297.66,256.30a2.5,2.5 0 1,0 5,0a2.5,2.5 0 1,0 -5,0zM301.34,258.08a2.5,2.5 0 1,0 5,0a2.5,2.5 0 1,0 -5,0zM305.01,258.82a2.5,2.5 0 1,0 5,0a2.5,2.5 0 1,0 -5,0zM308.68,260.15a2.5,2.5 0 1,0 5,0a2.5,2.5 0 1,0 -5,0zM312.35,259.96a2.5,2.5 0 1,0 5,0a2.5,2.5 0 1,0 -5,0zM316.02,260.82a2.5,2.5 0 1,0 5,0a2.5,2.5 0 1,0 -5,0zM319.70,262.40a2.5,2.5 0 1,0 5,0a2.5,2.5 0 1,0 -5,0zM323.37,262.95a2.5,2.5 0 1,0 5,0a2.5,2.5 0 1,0 -5,0zM327.04,263.06a2.5,2.5 0 1,0 5,0a2.5,2.5 0 1,0 -5,0zM330.71,264.35a2.5,2.5 0 1,0 5,0a2.5,2.5 0 1,0 -5,0zM334.38,264.57a2.5,2.5 0 1,0 5,0a2.5,2.5 0 1,0 -5,0zM338.06,265.86a2.5,2.5 0 1,0 5,0a2.5,2.5 0 1,0 -5,0zM341.73,265.28a2.5,2.5 0 1,0 5,0a2.5,2.5 0 1,0 -5,0zM345.40,265.89a2.5,2.5 0 1,0 5,0a2.5,2.5 0 1,0 -5,0zM349.07,267.41a2.5,2.5 0 1,0 5,0a2.5,2.5 0 1,0 -5,0zM352.74,266.98a2.5,2.5 0 1,0 5,0a2.5,2.5 0 1,0 -5,0zM356.42,267.27a2.5,2.5 0 1,0 5,0a2.5,2.5 0 1,0 -5,0zM360.09,268.58a2.5,2.5 0 1,0 5,0a2.5,2.5 0 1,0 -5,0zM363.76,268.73a2.5,2.5 0 1,0 5,0a2.5,2.5 0 1,0 -5,0zM367.43,268.25a2.5,2.5 0 1,0 5,0a2.5,2.5 0 1,0 -5,0zM371.10,269.19a2.5,2.5 0 1,0 5,0a2.5,2.5 0 1,0 -5,0zM374.78,269.66a2.5,2.5 0 1,0 5,0a2.5,2.5 0 1,0 -5,0zM378.45,269.16a2.5,2.5 0 1,0 5,0a2.5,2.5 0 1,0 -5,0zM382.12,270.23a2.5,2.5 0 1,0 5,0a2.5,2.5 0 1,0 -5,0zM385.79,269.68a2.5,2.5 0 1,0 5,0a2.5,2.5 0 1,0 -5,0zM389.46,270.32a2.5,2.5 0 1,0 5,0a2.5,2.5 0 1,0 -5,0zM393.14,270.20a2.5,2.5 0 1,0 5,0a2.5,2.5 0 1,0 -5,0zM396.81,270.69a2.5,2.5 0 1,0 5,0a2.5,2.5 0 1,0 -5,0zM400.48,272.22a2.5,2.5 0 1,0 5,0a2.5,2.5 0 1,0 -5,0zM404.15,271.60a2.5,2.5 0 1,0 5,0a2.5,2.5 0 1,0 -5,0zM407.82,272.83a2.5,2.5 0 1,0 5,0a2.5,2.5 0 1,0 -5,0zM411.50,272.24a2.5,2.5 0 1,0 5,0a2.5,2.5 0 1,0 -5,0zM415.17,272.72a2.5,2.5 0 1,0 5,0a2.5,2.5 0 1,0 -5,0zM418.84,273.25a2.5,2.5 0 1,0 5,0a2.5,2.5 0 1,0 -5,0zM422.51,273.06a2.5,2.5 0 1,0 5,0a2.5,2.5 0 1,0 -5,0zM426.18,272.25a2.5,2.5 0 1,0 5,0a2.5,2.5 0 1,0 -5,0zM429.86,273.12a2.5,2.5 0 1,0 5,0a2.5,2.5 0 1,0 -5,0zM433.53,273.30a2.5,2.5 0 1,0 5,0a2.5,2.5 0 1,0 -5,0zM437.20,272.69a2.5,2.5 0 1,0 5,0a2.5,2.5 0 1,0 -5,0zM440.87,272.66a2.5,2.5 0 1,0 5,0a2.5,2.5 0 1,0 -5,0zM444.54,274.01a2.5,2.5 0 1,0 5,0a2.5,2.5 0 1,0 -5,0zM448.22,273.52a2.5,2.5 0 1,0 5,0a2.5,2.5 0 1,0 -5,0zM451.89,273.01a2.5,2.5 0 1,0 5,0a2.5,2.5 0 1,0 -5,0zM455.56,273.42a2.5,2.5 0 1,0 5,0a2.5,2.5 0 1,0 -5,0zM459.23,273.05a2.5,2.5 0 1,0 5,0a2.5,2.5 0 1,0 -5,0zM462.90,273.98a2.5,2.5 0 1,0 5,0a2.5,2.5 0 1,0 -5,0zM466.58,273.50a2.5,2.5 0 1,0 5,0a2.5,2.5 0 1,0 -5,0zM470.25,272.86a2.5,2.5 0 1,0 5,0a2.5,2.5 0 1,0 -5,0zM473.92,274.01a2.5,2.5 0 1,0 5,0a2.5,2.5 0 1,0 -5,0zM477.59,272.84a2.5,2.5 0 1,0 5,0a2.5,2.5 0 1,0 -5,0zM481.26,273.15a2.5,2.5 0 1,0 5,0a2.5,2.5 0 1,0 -5,0zM484.94,272.74a2.5,2.5 0 1,0 5,0a2.5,2.5 0 1,0 -5,0zM488.61,273.88a2.5,2.5 0 1,0 5,0a2.5,2.5 0 1,0 -5,0zM492.28,272.88a2.5,2.5 0 1,0 5,0a2.5,2.5 0 1,0 -5,0zM495.95,273.54a2.5,2.5 0 1,0 5,0a2.5,2.5 0 1,0 -5,0zM499.62,272.85a2.5,2.5 0 1,0 5,0a2.5,2.5 0 1,0 -5,0zM503.30,273.47a2.5,2.5 0 1,0 5,0a2.5,2.5 0 1,0 -5,0zM506.97,273.80a2.5,2.5 0 1,0 5,0a2.5,2.5 0 1,0 -5,0zM510.64,273.56a2.5,2.5 0 1,0 5,0a2.5,2.5 0 1,0 -5,0z" fill="#7a0a5e"/>
<polyline points="72.5,277.43 76.17,275.5 79.84,276.92 83.52,275.74 87.19,277.38 90.86,275.41 94.53,277.11 98.2,276.69 101.88,277.02 105.55,277.28 109.22,275.74 112.89,275.91 116.56,276.63 120.24,275.75 123.91,275.69 127.58,275.6 131.25,276.84 134.92,276.85 138.6,276.67 142.27,275.5 145.94,276.88 149.61,276.03 153.28,275.23 156.96,275.42 160.63,275.1 164.3,274.16 167.97,274.87 171.64,274.2 175.32,274.37 178.99,274.83 182.66,274.0 186.33,273.27 190.0,273.93 193.68,273.93 197.35,272.67 201.02,273.33 204.69,271.24 208.36,271.26 212.04,271.09 215.71,272.39 219.38,271.67 223.05,271.7 226.72,270.84 230.4,271.26 234.07,272.06 237.74,270.49 241.41,270.53 245.08,270.4 248.76,271.25 252.43,272.0 256.1,271.44 259.77,271.14 263.44,271.35 267.12,270.72 270.79,272.26 274.46,271.08 278.13,270.85 281.8,271.01 285.48,272.05 289.15,271.04 292.82,272.23 296.49,271.1 300.16,271.32 303.84,270.59 307.51,272.26 311.18,272.05 314.85,271.41 318.52,270.7 322.2,271.47 325.87,271.24 329.54,272.18 333.21,272.41 336.88,272.1 340.56,271.26 344.23,270.83 347.9,272.6 351.57,272.76 355.24,271.25 358.92,272.0 362.59,272.02 366.26,273.08 369.93,271.27 373.6,271.38 377.28,273.0 380.95,272.52 384.62,272.37 388.29,273.06 391.96,272.76 395.64,273.02 399.31,272.21 402.98,271.93 406.65,271.84 410.32,272.55 414.0,273.25 417.67,272.77 421.34,272.77 425.01,273.38 428.68,273.61 432.36,273.46 436.03,272.95 439.7,274.03 443.37,274.06 447.04,274.3 450.72,274.36 454.39,272.67 458.06,274.03 461.73,273.45 465.4,273.59 469.08,273.91 472.75,273.22 476.42,273.49 480.09,275.02 483.76,273.77 487.44,275.0 491.11,274.6 494.78,273.92 498.45,273.99 502.12,274.62 505.8,274.87 509.47,274.21 513.14,273.7" fill="none" stroke="#ee3a16" stroke-width="1.6" stroke-linejoin="round" opacity="1.0"/>
<path d="M72.50,274.03L75.80,280.43L69.20,280.43zM76.17,272.10L79.47,278.50L72.87,278.50zM79.84,273.52L83.14,279.92L76.54,279.92zM83.52,272.34L86.82,278.74L80.22,278.74zM87.19,273.98L90.49,280.38L83.89,280.38zM90.86,272.01L94.16,278.41L87.56,278.41zM94.53,273.71L97.83,280.11L91.23,280.11zM98.20,273.29L101.50,279.69L94.90,279.69zM101.88,273.62L105.18,280.02L98.58,280.02zM105.55,273.88L108.85,280.28L102.25,280.28zM109.22,272.34L112.52,278.74L105.92,278.74zM112.89,272.51L116.19,278.91L109.59,278.91zM116.56,273.23L119.86,279.63L113.26,279.63zM120.24,272.35L123.54,278.75L116.94,278.75zM123.91,272.29L127.21,278.69L120.61,278.69zM127.58,272.20L130.88,278.60L124.28,278.60zM131.25,273.44L134.55,279.84L127.95,279.84zM134.92,273.45L138.22,279.85L131.62,279.85zM138.60,273.27L141.90,279.67L135.30,279.67zM142.27,272.10L145.57,278.50L138.97,278.50zM145.94,273.48L149.24,279.88L142.64,279.88zM149.61,272.63L152.91,279.03L146.31,279.03zM153.28,271.83L156.58,278.23L149.98,278.23zM156.96,272.02L160.26,278.42L153.66,278.42zM160.63,271.70L163.93,278.10L157.33,278.10zM164.30,270.76L167.60,277.16L161.00,277.16zM167.97,271.47L171.27,277.87L164.67,277.87zM171.64,270.80L174.94,277.20L168.34,277.20zM175.32,270.97L178.62,277.37L172.02,277.37zM178.99,271.43L182.29,277.83L175.69,277.83zM182.66,270.60L185.96,277.00L179.36,277.00zM186.33,269.87L189.63,276.27L183.03,276.27zM190.00,270.53L193.30,276.93L186.70,276.93zM193.68,270.53L196.98,276.93L190.38,276.93zM197.35,269.27L200.65,275.67L194.05,275.67zM201.02,269.93L204.32,276.33L197.72,276.33zM204.69,267.84L207.99,274.24L201.39,274.24zM208.36,267.86L211.66,274.26L205.06,274.26zM212.04,267.69L215.34,274.09L208.74,274.09zM215.71,268.99L219.01,275.39L212.41,275.39zM219.38,268.27L222.68,274.67L216.08,274.67zM223.05,268.30L226.35,274.70L219.75,274.70zM226.72,267.44L230.02,273.84L223.42,273.84zM230.40,267.86L233.70,274.26L227.10,274.26zM234.07,268.66L237.37,275.06L230.77,275.06zM237.74,267.09L241.04,273.49L234.44,273.49zM241.41,267.13L244.71,273.53L238.11,273.53zM245.08,267.00L248.38,273.40L241.78,273.40zM248.76,267.85L252.06,274.25L245.46,274.25zM252.43,268.60L255.73,275.00L249.13,275.00zM256.10,268.04L259.40,274.44L252.80,274.44zM259.77,267.74L263.07,274.14L256.47,274.14zM263.44,267.95L266.74,274.35L260.14,274.35zM267.12,267.32L270.42,273.72L263.82,273.72zM270.79,268.86L274.09,275.26L267.49,275.26zM274.46,267.68L277.76,274.08L271.16,274.08zM278.13,267.45L281.43,273.85L274.83,273.85zM281.80,267.61L285.10,274.01L278.50,274.01zM285.48,268.65L288.78,275.05L282.18,275.05zM289.15,267.64L292.45,274.04L285.85,274.04zM292.82,268.83L296.12,275.23L289.52,275.23zM296.49,267.70L299.79,274.10L293.19,274.10zM300.16,267.92L303.46,274.32L296.86,274.32zM303.84,267.19L307.14,273.59L300.54,273.59zM307.51,268.86L310.81,275.26L304.21,275.26zM311.18,268.65L314.48,275.05L307.88,275.05zM314.85,268.01L318.15,274.41L311.55,274.41zM318.52,267.30L321.82,273.70L315.22,273.70zM322.20,268.07L325.50,274.47L318.90,274.47zM325.87,267.84L329.17,274.24L322.57,274.24zM329.54,268.78L332.84,275.18L326.24,275.18zM333.21,269.01L336.51,275.41L329.91,275.41zM336.88,268.70L340.18,275.10L333.58,275.10zM340.56,267.86L343.86,274.26L337.26,274.26zM344.23,267.43L347.53,273.83L340.93,273.83zM347.90,269.20L351.20,275.60L344.60,275.60zM351.57,269.36L354.87,275.76L348.27,275.76zM355.24,267.85L358.54,274.25L351.94,274.25zM358.92,268.60L362.22,275.00L355.62,275.00zM362.59,268.62L365.89,275.02L359.29,275.02zM366.26,269.68L369.56,276.08L362.96,276.08zM369.93,267.87L373.23,274.27L366.63,274.27zM373.60,267.98L376.90,274.38L370.30,274.38zM377.28,269.60L380.58,276.00L373.98,276.00zM380.95,269.12L384.25,275.52L377.65,275.52zM384.62,268.97L387.92,275.37L381.32,275.37zM388.29,269.66L391.59,276.06L384.99,276.06zM391.96,269.36L395.26,275.76L388.66,275.76zM395.64,269.62L398.94,276.02L392.34,276.02zM399.31,268.81L402.61,275.21L396.01,275.21zM402.98,268.53L406.28,274.93L399.68,274.93zM406.65,268.44L409.95,274.84L403.35,274.84zM410.32,269.15L413.62,275.55L407.02,275.55zM414.00,269.85L417.30,276.25L410.70,276.25zM417.67,269.37L420.97,275.77L414.37,275.77zM421.34,269.37L424.64,275.77L418.04,275.77zM425.01,269.98L428.31,276.38L421.71,276.38zM428.68,270.21L431.98,276.61L425.38,276.61zM432.36,270.06L435.66,276.46L429.06,276.46zM436.03,269.55L439.33,275.95L432.73,275.95zM439.70,270.63L443.00,277.03L436.40,277.03zM443.37,270.66L446.67,277.06L440.07,277.06zM447.04,270.90L450.34,277.30L443.74,277.30zM450.72,270.96L454.02,277.36L447.42,277.36zM454.39,269.27L457.69,275.67L451.09,275.67zM458.06,270.63L461.36,277.03L454.76,277.03zM461.73,270.05L465.03,276.45L458.43,276.45zM465.40,270.19L468.70,276.59L462.10,276.59zM469.08,270.51L472.38,276.91L465.78,276.91zM472.75,269.82L476.05,276.22L469.45,276.22zM476.42,270.09L479.72,276.49L473.12,276.49zM480.09,271.62L483.39,278.02L476.79,278.02zM483.76,270.37L487.06,276.77L480.46,276.77zM487.44,271.60L490.74,278.00L484.14,278.00zM491.11,271.20L494.41,277.60L487.81,277.60zM494.78,270.52L498.08,276.92L491.48,276.92zM498.45,270.59L501.75,276.99L495.15,276.99zM502.12,271.22L505.42,277.62L498.82,277.62zM505.80,271.47L509.10,277.87L502.50,277.87zM509.47,270.81L512.77,277.21L506.17,277.21zM513.14,270.30L516.44,276.70L509.84,276.70z" fill="#ee3a16"/>
<polyline points="68.2,633.73 71.88,633.69 75.56,633.64 79.24,633.59 82.92,633.55 86.6,633.5 90.28,633.45 93.96,633.41 97.64,633.36 101.32,633.31 105.0,633.26 108.68,633.22 112.36,631.74 116.04,629.44 119.72,623.73 123.4,610.85 127.08,590.81 130.76,570.57 134.44,548.15 138.12,523.95 141.8,507.16 145.48,487.61 149.16,473.6 152.84,452.9 156.52,442.95 160.2,434.37 163.88,431.67 167.56,422.55 171.24,425.49 174.92,425.91 178.6,423.72 182.28,428.04 185.96,425.86 189.64,432.25 193.32,438.81 197.0,441.75 200.68,440.52 204.36,456.87 208.04,461.35 211.72,470.55 215.4,493.11 219.08,488.6 222.76,491.48 226.44,508.38 230.12,510.58 233.8,511.41 237.48,523.37 241.16,528.71 244.84,540.72 248.52,547.12 252.2,545.2 255.88,555.14 259.56,558.46 263.24,559.91 266.92,562.14 270.6,574.9 274.28,576.49 277.96,572.3 281.64,577.25 285.32,582.21 289.0,592.08 292.68,586.55 296.36,592.61 300.04,598.68 303.72,592.55 307.4,602.0 311.08,596.89 314.76,603.3 318.44,606.87 322.12,598.46 325.8,607.5 329.48,607.5 333.16,609.82 336.84,624.4 340.52,613.8 344.2,612.06 347.88,617.89 351.56,607.29 355.24,621.21 358.92,613.8 362.6,628.7 366.28,617.36 369.96,622.69 373.64,614.9 377.32,616.96 381.0,614.42 384.68,624.84 388.36,620.2 392.04,618.28 395.72,618.83 399.4,618.01 403.08,638.2 406.76,625.86 410.44,624.69 414.12,628.98 417.8,620.74 421.48,631.9 425.16,639.7 428.84,626.0 432.52,621.7 436.2,633.52 439.88,640.8 443.56,628.58 447.24,627.0 450.92,633.31 454.6,630.02 458.28,620.7 461.96,628.96 465.64,623.8 469.32,630.71 473.0,624.7 476.68,636.12 480.36,623.79 484.04,640.8 487.72,636.64 491.4,628.0 495.08,636.24 498.76,618.6 502.44,623.8 506.12,645.0 509.8,633.33" fill="none" stroke="#000000" stroke-width="1.0" stroke-linejoin="round" opacity="1.0"/>
<path d="M65.80,631.33h4.8v4.8h-4.8zM69.48,631.29h4.8v4.8h-4.8zM73.16,631.24h4.8v4.8h-4.8zM76.84,631.19h4.8v4.8h-4.8zM80.52,631.15h4.8v4.8h-4.8zM84.20,631.10h4.8v4.8h-4.8zM87.88,631.05h4.8v4.8h-4.8zM91.56,631.01h4.8v4.8h-4.8zM95.24,630.96h4.8v4.8h-4.8zM98.92,630.91h4.8v4.8h-4.8zM102.60,630.86h4.8v4.8h-4.8zM106.28,630.82h4.8v4.8h-4.8zM109.96,629.34h4.8v4.8h-4.8zM113.64,627.04h4.8v4.8h-4.8zM117.32,621.33h4.8v4.8h-4.8zM121.00,608.45h4.8v4.8h-4.8zM124.68,588.41h4.8v4.8h-4.8zM128.36,568.17h4.8v4.8h-4.8zM132.04,545.75h4.8v4.8h-4.8zM135.72,521.55h4.8v4.8h-4.8zM139.40,504.76h4.8v4.8h-4.8zM143.08,485.21h4.8v4.8h-4.8zM146.76,471.20h4.8v4.8h-4.8zM150.44,450.50h4.8v4.8h-4.8zM154.12,440.55h4.8v4.8h-4.8zM157.80,431.97h4.8v4.8h-4.8zM161.48,429.27h4.8v4.8h-4.8zM165.16,420.15h4.8v4.8h-4.8zM168.84,423.09h4.8v4.8h-4.8zM172.52,423.51h4.8v4.8h-4.8zM176.20,421.32h4.8v4.8h-4.8zM179.88,425.64h4.8v4.8h-4.8zM183.56,423.46h4.8v4.8h-4.8zM187.24,429.85h4.8v4.8h-4.8zM190.92,436.41h4.8v4.8h-4.8zM194.60,439.35h4.8v4.8h-4.8zM198.28,438.12h4.8v4.8h-4.8zM201.96,454.47h4.8v4.8h-4.8zM205.64,458.95h4.8v4.8h-4.8zM209.32,468.15h4.8v4.8h-4.8zM213.00,490.71h4.8v4.8h-4.8zM216.68,486.20h4.8v4.8h-4.8zM220.36,489.08h4.8v4.8h-4.8zM224.04,505.98h4.8v4.8h-4.8zM227.72,508.18h4.8v4.8h-4.8zM231.40,509.01h4.8v4.8h-4.8zM235.08,520.97h4.8v4.8h-4.8zM238.76,526.31h4.8v4.8h-4.8zM242.44,538.32h4.8v4.8h-4.8zM246.12,544.72h4.8v4.8h-4.8zM249.80,542.80h4.8v4.8h-4.8zM253.48,552.74h4.8v4.8h-4.8zM257.16,556.06h4.8v4.8h-4.8zM260.84,557.51h4.8v4.8h-4.8zM264.52,559.74h4.8v4.8h-4.8zM268.20,572.50h4.8v4.8h-4.8zM271.88,574.09h4.8v4.8h-4.8zM275.56,569.90h4.8v4.8h-4.8zM279.24,574.85h4.8v4.8h-4.8zM282.92,579.81h4.8v4.8h-4.8zM286.60,589.68h4.8v4.8h-4.8zM290.28,584.15h4.8v4.8h-4.8zM293.96,590.21h4.8v4.8h-4.8zM297.64,596.28h4.8v4.8h-4.8zM301.32,590.15h4.8v4.8h-4.8zM305.00,599.60h4.8v4.8h-4.8zM308.68,594.49h4.8v4.8h-4.8zM312.36,600.90h4.8v4.8h-4.8zM316.04,604.47h4.8v4.8h-4.8zM319.72,596.06h4.8v4.8h-4.8zM323.40,605.10h4.8v4.8h-4.8zM327.08,605.10h4.8v4.8h-4.8zM330.76,607.42h4.8v4.8h-4.8zM334.44,622.00h4.8v4.8h-4.8zM338.12,611.40h4.8v4.8h-4.8zM341.80,609.66h4.8v4.8h-4.8zM345.48,615.49h4.8v4.8h-4.8zM349.16,604.89h4.8v4.8h-4.8zM352.84,618.81h4.8v4.8h-4.8zM356.52,611.40h4.8v4.8h-4.8zM360.20,626.30h4.8v4.8h-4.8zM363.88,614.96h4.8v4.8h-4.8zM367.56,620.29h4.8v4.8h-4.8zM371.24,612.50h4.8v4.8h-4.8zM374.92,614.56h4.8v4.8h-4.8zM378.60,612.02h4.8v4.8h-4.8zM382.28,622.44h4.8v4.8h-4.8zM385.96,617.80h4.8v4.8h-4.8zM389.64,615.88h4.8v4.8h-4.8zM393.32,616.43h4.8v4.8h-4.8zM397.00,615.61h4.8v4.8h-4.8zM400.68,635.80h4.8v4.8h-4.8zM404.36,623.46h4.8v4.8h-4.8zM408.04,622.29h4.8v4.8h-4.8zM411.72,626.58h4.8v4.8h-4.8zM415.40,618.34h4.8v4.8h-4.8zM419.08,629.50h4.8v4.8h-4.8zM422.76,637.30h4.8v4.8h-4.8zM426.44,623.60h4.8v4.8h-4.8zM430.12,619.30h4.8v4.8h-4.8zM433.80,631.12h4.8v4.8h-4.8zM437.48,638.40h4.8v4.8h-4.8zM441.16,626.18h4.8v4.8h-4.8zM444.84,624.60h4.8v4.8h-4.8zM448.52,630.91h4.8v4.8h-4.8zM452.20,627.62h4.8v4.8h-4.8zM455.88,618.30h4.8v4.8h-4.8zM459.56,626.56h4.8v4.8h-4.8zM463.24,621.40h4.8v4.8h-4.8zM466.92,628.31h4.8v4.8h-4.8zM470.60,622.30h4.8v4.8h-4.8zM474.28,633.72h4.8v4.8h-4.8zM477.96,621.39h4.8v4.8h-4.8zM481.64,638.40h4.8v4.8h-4.8zM485.32,634.24h4.8v4.8h-4.8zM489.00,625.60h4.8v4.8h-4.8zM492.68,633.84h4.8v4.8h-4.8zM496.36,616.20h4.8v4.8h-4.8zM500.04,621.40h4.8v4.8h-4.8zM503.72,642.60h4.8v4.8h-4.8zM507.40,630.93h4.8v4.8h-4.8z" fill="#000000"/>
<polyline points="68.2,635.58 71.88,635.82 75.56,636.06 79.24,636.3 82.92,636.54 86.6,636.78 90.28,637.04 93.96,637.59 97.64,638.15 101.32,638.3 105.0,637.75 108.68,637.2 112.36,636.37 116.04,635.39 119.72,634.41 123.4,633.43 127.08,632.57 130.76,631.81 134.44,630.78 138.12,628.94 141.8,626.61 145.48,622.52 149.16,613.89 152.84,605.29 156.52,594.44 160.2,583.4 163.88,568.01 167.56,554.45 171.24,538.19 174.92,529.42 178.6,516.77 182.28,505.66 185.96,498.08 189.64,490.27 193.32,484.41 197.0,480.93 200.68,479.65 204.36,479.5 208.04,478.28 211.72,480.57 215.4,483.76 219.08,488.65 222.76,493.68 226.44,501.28 230.12,505.06 233.8,506.9 237.48,523.62 241.16,520.05 244.84,521.2 248.52,538.85 252.2,544.14 255.88,547.72 259.56,548.64 263.24,555.23 266.92,569.99 270.6,570.95 274.28,571.34 277.96,574.12 281.64,577.06 285.32,580.32 289.0,584.0 292.68,585.53 296.36,583.94 300.04,590.38 303.72,594.48 307.4,597.42 311.08,597.83 314.76,598.75 318.44,600.33 322.12,599.17 325.8,604.84 329.48,605.87 333.16,607.04 336.84,607.52 340.52,614.24 344.2,613.62 347.88,610.52 351.56,610.35 355.24,608.94 358.92,607.81 362.6,610.97 366.28,612.68 369.96,608.55 373.64,614.73 377.32,611.09 381.0,611.94 384.68,611.26 388.36,619.99 392.04,619.02 395.72,621.34 399.4,620.98 403.08,618.04 406.76,622.12 410.44,625.2 414.12,623.99 417.8,632.52 421.48,629.54 425.16,629.3 428.84,636.08 432.52,631.38 436.2,638.35 439.88,635.11 443.56,636.45 447.24,635.33 450.92,636.88 454.6,634.5 458.28,633.3 461.96,639.93 465.64,634.88 469.32,639.24 473.0,634.67 476.68,640.75 480.36,640.15 484.04,639.04 487.72,639.1 491.4,637.65 495.08,638.84 498.76,633.98 502.44,636.81 506.12,639.62 509.8,634.61" fill="none" stroke="#f8e40a" stroke-width="1.0" stroke-linejoin="round" opacity="1.0"/>
<path d="M68.20,632.28L71.40,638.48L65.00,638.48zM71.88,632.52L75.08,638.72L68.68,638.72zM75.56,632.76L78.76,638.96L72.36,638.96zM79.24,633.00L82.44,639.20L76.04,639.20zM82.92,633.24L86.12,639.44L79.72,639.44zM86.60,633.48L89.80,639.68L83.40,639.68zM90.28,633.74L93.48,639.94L87.08,639.94zM93.96,634.29L97.16,640.49L90.76,640.49zM97.64,634.85L100.84,641.05L94.44,641.05zM101.32,635.00L104.52,641.20L98.12,641.20zM105.00,634.45L108.20,640.65L101.80,640.65zM108.68,633.90L111.88,640.10L105.48,640.10zM112.36,633.07L115.56,639.27L109.16,639.27zM116.04,632.09L119.24,638.29L112.84,638.29zM119.72,631.11L122.92,637.31L116.52,637.31zM123.40,630.13L126.60,636.33L120.20,636.33zM127.08,629.27L130.28,635.47L123.88,635.47zM130.76,628.51L133.96,634.71L127.56,634.71zM134.44,627.48L137.64,633.68L131.24,633.68zM138.12,625.64L141.32,631.84L134.92,631.84zM141.80,623.31L145.00,629.51L138.60,629.51zM145.48,619.22L148.68,625.42L142.28,625.42zM149.16,610.59L152.36,616.79L145.96,616.79zM152.84,601.99L156.04,608.19L149.64,608.19zM156.52,591.14L159.72,597.34L153.32,597.34zM160.20,580.10L163.40,586.30L157.00,586.30zM163.88,564.71L167.08,570.91L160.68,570.91zM167.56,551.15L170.76,557.35L164.36,557.35zM171.24,534.89L174.44,541.09L168.04,541.09zM174.92,526.12L178.12,532.32L171.72,532.32zM178.60,513.47L181.80,519.67L175.40,519.67zM182.28,502.36L185.48,508.56L179.08,508.56zM185.96,494.78L189.16,500.98L182.76,500.98zM189.64,486.97L192.84,493.17L186.44,493.17zM193.32,481.11L196.52,487.31L190.12,487.31zM197.00,477.63L200.20,483.83L193.80,483.83zM200.68,476.35L203.88,482.55L197.48,482.55zM204.36,476.20L207.56,482.40L201.16,482.40zM208.04,474.98L211.24,481.18L204.84,481.18zM211.72,477.27L214.92,483.47L208.52,483.47zM215.40,480.46L218.60,486.66L212.20,486.66zM219.08,485.35L222.28,491.55L215.88,491.55zM222.76,490.38L225.96,496.58L219.56,496.58zM226.44,497.98L229.64,504.18L223.24,504.18zM230.12,501.76L233.32,507.96L226.92,507.96zM233.80,503.60L237.00,509.80L230.60,509.80zM237.48,520.32L240.68,526.52L234.28,526.52zM241.16,516.75L244.36,522.95L237.96,522.95zM244.84,517.90L248.04,524.10L241.64,524.10zM248.52,535.55L251.72,541.75L245.32,541.75zM252.20,540.84L255.40,547.04L249.00,547.04zM255.88,544.42L259.08,550.62L252.68,550.62zM259.56,545.34L262.76,551.54L256.36,551.54zM263.24,551.93L266.44,558.13L260.04,558.13zM266.92,566.69L270.12,572.89L263.72,572.89zM270.60,567.65L273.80,573.85L267.40,573.85zM274.28,568.04L277.48,574.24L271.08,574.24zM277.96,570.82L281.16,577.02L274.76,577.02zM281.64,573.76L284.84,579.96L278.44,579.96zM285.32,577.02L288.52,583.22L282.12,583.22zM289.00,580.70L292.20,586.90L285.80,586.90zM292.68,582.23L295.88,588.43L289.48,588.43zM296.36,580.64L299.56,586.84L293.16,586.84zM300.04,587.08L303.24,593.28L296.84,593.28zM303.72,591.18L306.92,597.38L300.52,597.38zM307.40,594.12L310.60,600.32L304.20,600.32zM311.08,594.53L314.28,600.73L307.88,600.73zM314.76,595.45L317.96,601.65L311.56,601.65zM318.44,597.03L321.64,603.23L315.24,603.23zM322.12,595.87L325.32,602.07L318.92,602.07zM325.80,601.54L329.00,607.74L322.60,607.74zM329.48,602.57L332.68,608.77L326.28,608.77zM333.16,603.74L336.36,609.94L329.96,609.94zM336.84,604.22L340.04,610.42L333.64,610.42zM340.52,610.94L343.72,617.14L337.32,617.14zM344.20,610.32L347.40,616.52L341.00,616.52zM347.88,607.22L351.08,613.42L344.68,613.42zM351.56,607.05L354.76,613.25L348.36,613.25zM355.24,605.64L358.44,611.84L352.04,611.84zM358.92,604.51L362.12,610.71L355.72,610.71zM362.60,607.67L365.80,613.87L359.40,613.87zM366.28,609.38L369.48,615.58L363.08,615.58zM369.96,605.25L373.16,611.45L366.76,611.45zM373.64,611.43L376.84,617.63L370.44,617.63zM377.32,607.79L380.52,613.99L374.12,613.99zM381.00,608.64L384.20,614.84L377.80,614.84zM384.68,607.96L387.88,614.16L381.48,614.16zM388.36,616.69L391.56,622.89L385.16,622.89zM392.04,615.72L395.24,621.92L388.84,621.92zM395.72,618.04L398.92,624.24L392.52,624.24zM399.40,617.68L402.60,623.88L396.20,623.88zM403.08,614.74L406.28,620.94L399.88,620.94zM406.76,618.82L409.96,625.02L403.56,625.02zM410.44,621.90L413.64,628.10L407.24,628.10zM414.12,620.69L417.32,626.89L410.92,626.89zM417.80,629.22L421.00,635.42L414.60,635.42zM421.48,626.24L424.68,632.44L418.28,632.44zM425.16,626.00L428.36,632.20L421.96,632.20zM428.84,632.78L432.04,638.98L425.64,638.98zM432.52,628.08L435.72,634.28L429.32,634.28zM436.20,635.05L439.40,641.25L433.00,641.25zM439.88,631.81L443.08,638.01L436.68,638.01zM443.56,633.15L446.76,639.35L440.36,639.35zM447.24,632.03L450.44,638.23L444.04,638.23zM450.92,633.58L454.12,639.78L447.72,639.78zM454.60,631.20L457.80,637.40L451.40,637.40zM458.28,630.00L461.48,636.20L455.08,636.20zM461.96,636.63L465.16,642.83L458.76,642.83zM465.64,631.58L468.84,637.78L462.44,637.78zM469.32,635.94L472.52,642.14L466.12,642.14zM473.00,631.37L476.20,637.57L469.80,637.57zM476.68,637.45L479.88,643.65L473.48,643.65zM480.36,636.85L483.56,643.05L477.16,643.05zM484.04,635.74L487.24,641.94L480.84,641.94zM487.72,635.80L490.92,642.00L484.52,642.00zM491.40,634.35L494.60,640.55L488.20,640.55zM495.08,635.54L498.28,641.74L491.88,641.74zM498.76,630.68L501.96,636.88L495.56,636.88zM502.44,633.51L505.64,639.71L499.24,639.71zM506.12,636.32L509.32,642.52L502.92,642.52zM509.80,631.31L513.00,637.51L506.60,637.51z" fill="#f8e40a"/>
<polyline points="68.2,634.96 71.88,634.86 75.56,634.75 79.24,634.64 82.92,634.53 86.6,634.42 90.28,634.32 93.96,634.21 97.64,634.1 101.32,633.99 105.0,633.88 108.68,633.77 112.36,633.67 116.04,633.56 119.72,633.45 123.4,633.34 127.08,633.23 130.76,633.12 134.44,633.02 138.12,632.09 141.8,630.98 145.48,629.76 149.16,627.99 152.84,623.4642464239037 156.52,617.5566014149064 160.2,608.8057083551404 163.88,601.0218291136547 167.56,591.7090099095534 171.24,585.89404577074 174.92,579.5009430814531 178.6,573.0538943323072 182.28,570.1309453160851 185.96,566.4357026936739 189.64,561.9928176465992 193.32,558.201390079613 197.0,555.7792398429743 200.68,554.7697099392607 204.36,552.784936702764 208.04,551.5817560763062 211.72,553.0730733370384 215.4,555.9202370983376 219.08,556.1831852293565 222.76,558.9544964314397 226.44,561.5785623038572 230.12,562.9173774346887 233.8,565.0856929284487 237.48,568.1479296269931 241.16,570.6423950647148 244.84,574.533388839224 248.52,575.1114879950551 252.2,577.0792643968554 255.88,578.6384241904948 259.56,582.4397163106104 263.24,584.8589416238489 266.92,586.7685079843193 270.6,589.8620290340417 274.28,591.7770941092423 277.96,594.8798661802502 281.64,596.8312717338366 285.32,598.2658071940052 289.0,600.7763156467062 292.68,603.9685662482747 296.36,606.1553486518599 300.04,607.7977529228756 303.72,609.617319888477 307.4,610.7934296430404 311.08,613.6755079185854 314.76,615.1112899661563 318.44,616.3641123149149 322.12,618.2334879021535 325.8,617.5789554879069 329.48,618.2465772524126 333.16,620.6593040932014 336.84,621.3091133317628 340.52,620.8374645548865 344.2,622.7972992073353 347.88,622.3314853105143 351.56,623.2292736988893 355.24,624.205511871108 358.92,624.143948456825 362.6,625.1865772946437 366.28,625.8595112173032 369.96,624.9110148181209 373.64,626.5559245667528 377.32,626.9236721825922 381.0,630.43 384.68,625.14 388.36,624.73 392.04,631.85 395.72,626.45 399.4,626.3 403.08,630.31 406.76,628.46 410.44,632.56 414.12,628.24 417.8,633.6 421.48,629.39 425.16,631.63 428.84,634.21 432.52,632.75 436.2,634.69 439.88,633.45 443.56,628.89 447.24,634.77 450.92,632.78 454.6,630.88 458.28,630.09 461.96,634.76 465.64,632.95 469.32,635.48 473.0,634.39 476.68,635.75 480.36,633.04 484.04,634.02 487.72,633.47 491.4,631.04 495.08,635.98 498.76,631.53 502.44,634.86 506.12,636.13 509.8,634.05" fill="none" stroke="#320f64" stroke-width="1.0" stroke-linejoin="round" opacity="1.0"/>
<path d="M68.20,631.96L71.20,634.96L68.20,637.96L65.20,634.96zM71.88,631.86L74.88,634.86L71.88,637.86L68.88,634.86zM75.56,631.75L78.56,634.75L75.56,637.75L72.56,634.75zM79.24,631.64L82.24,634.64L79.24,637.64L76.24,634.64zM82.92,631.53L85.92,634.53L82.92,637.53L79.92,634.53zM86.60,631.42L89.60,634.42L86.60,637.42L83.60,634.42zM90.28,631.32L93.28,634.32L90.28,637.32L87.28,634.32zM93.96,631.21L96.96,634.21L93.96,637.21L90.96,634.21zM97.64,631.10L100.64,634.10L97.64,637.10L94.64,634.10zM101.32,630.99L104.32,633.99L101.32,636.99L98.32,633.99zM105.00,630.88L108.00,633.88L105.00,636.88L102.00,633.88zM108.68,630.77L111.68,633.77L108.68,636.77L105.68,633.77zM112.36,630.67L115.36,633.67L112.36,636.67L109.36,633.67zM116.04,630.56L119.04,633.56L116.04,636.56L113.04,633.56zM119.72,630.45L122.72,633.45L119.72,636.45L116.72,633.45zM123.40,630.34L126.40,633.34L123.40,636.34L120.40,633.34zM127.08,630.23L130.08,633.23L127.08,636.23L124.08,633.23zM130.76,630.12L133.76,633.12L130.76,636.12L127.76,633.12zM134.44,630.02L137.44,633.02L134.44,636.02L131.44,633.02zM138.12,629.09L141.12,632.09L138.12,635.09L135.12,632.09zM141.80,627.98L144.80,630.98L141.80,633.98L138.80,630.98zM145.48,626.76L148.48,629.76L145.48,632.76L142.48,629.76zM149.16,624.99L152.16,627.99L149.16,630.99L146.16,627.99zM152.84,620.46L155.84,623.46L152.84,626.46L149.84,623.46zM156.52,614.56L159.52,617.56L156.52,620.56L153.52,617.56zM160.20,605.81L163.20,608.81L160.20,611.81L157.20,608.81zM163.88,598.02L166.88,601.02L163.88,604.02L160.88,601.02zM167.56,588.71L170.56,591.71L167.56,594.71L164.56,591.71zM171.24,582.89L174.24,585.89L171.24,588.89L168.24,585.89zM174.92,576.50L177.92,579.50L174.92,582.50L171.92,579.50zM178.60,570.05L181.60,573.05L178.60,576.05L175.60,573.05zM182.28,567.13L185.28,570.13L182.28,573.13L179.28,570.13zM185.96,563.44L188.96,566.44L185.96,569.44L182.96,566.44zM189.64,558.99L192.64,561.99L189.64,564.99L186.64,561.99zM193.32,555.20L196.32,558.20L193.32,561.20L190.32,558.20zM197.00,552.78L200.00,555.78L197.00,558.78L194.00,555.78zM200.68,551.77L203.68,554.77L200.68,557.77L197.68,554.77zM204.36,549.78L207.36,552.78L204.36,555.78L201.36,552.78zM208.04,548.58L211.04,551.58L208.04,554.58L205.04,551.58zM211.72,550.07L214.72,553.07L211.72,556.07L208.72,553.07zM215.40,552.92L218.40,555.92L215.40,558.92L212.40,555.92zM219.08,553.18L222.08,556.18L219.08,559.18L216.08,556.18zM222.76,555.95L225.76,558.95L222.76,561.95L219.76,558.95zM226.44,558.58L229.44,561.58L226.44,564.58L223.44,561.58zM230.12,559.92L233.12,562.92L230.12,565.92L227.12,562.92zM233.80,562.09L236.80,565.09L233.80,568.09L230.80,565.09zM237.48,565.15L240.48,568.15L237.48,571.15L234.48,568.15zM241.16,567.64L244.16,570.64L241.16,573.64L238.16,570.64zM244.84,571.53L247.84,574.53L244.84,577.53L241.84,574.53zM248.52,572.11L251.52,575.11L248.52,578.11L245.52,575.11zM252.20,574.08L255.20,577.08L252.20,580.08L249.20,577.08zM255.88,575.64L258.88,578.64L255.88,581.64L252.88,578.64zM259.56,579.44L262.56,582.44L259.56,585.44L256.56,582.44zM263.24,581.86L266.24,584.86L263.24,587.86L260.24,584.86zM266.92,583.77L269.92,586.77L266.92,589.77L263.92,586.77zM270.60,586.86L273.60,589.86L270.60,592.86L267.60,589.86zM274.28,588.78L277.28,591.78L274.28,594.78L271.28,591.78zM277.96,591.88L280.96,594.88L277.96,597.88L274.96,594.88zM281.64,593.83L284.64,596.83L281.64,599.83L278.64,596.83zM285.32,595.27L288.32,598.27L285.32,601.27L282.32,598.27zM289.00,597.78L292.00,600.78L289.00,603.78L286.00,600.78zM292.68,600.97L295.68,603.97L292.68,606.97L289.68,603.97zM296.36,603.16L299.36,606.16L296.36,609.16L293.36,606.16zM300.04,604.80L303.04,607.80L300.04,610.80L297.04,607.80zM303.72,606.62L306.72,609.62L303.72,612.62L300.72,609.62zM307.40,607.79L310.40,610.79L307.40,613.79L304.40,610.79zM311.08,610.68L314.08,613.68L311.08,616.68L308.08,613.68zM314.76,612.11L317.76,615.11L314.76,618.11L311.76,615.11zM318.44,613.36L321.44,616.36L318.44,619.36L315.44,616.36zM322.12,615.23L325.12,618.23L322.12,621.23L319.12,618.23zM325.80,614.58L328.80,617.58L325.80,620.58L322.80,617.58zM329.48,615.25L332.48,618.25L329.48,621.25L326.48,618.25zM333.16,617.66L336.16,620.66L333.16,623.66L330.16,620.66zM336.84,618.31L339.84,621.31L336.84,624.31L333.84,621.31zM340.52,617.84L343.52,620.84L340.52,623.84L337.52,620.84zM344.20,619.80L347.20,622.80L344.20,625.80L341.20,622.80zM347.88,619.33L350.88,622.33L347.88,625.33L344.88,622.33zM351.56,620.23L354.56,623.23L351.56,626.23L348.56,623.23zM355.24,621.21L358.24,624.21L355.24,627.21L352.24,624.21zM358.92,621.14L361.92,624.14L358.92,627.14L355.92,624.14zM362.60,622.19L365.60,625.19L362.60,628.19L359.60,625.19zM366.28,622.86L369.28,625.86L366.28,628.86L363.28,625.86zM369.96,621.91L372.96,624.91L369.96,627.91L366.96,624.91zM373.64,623.56L376.64,626.56L373.64,629.56L370.64,626.56zM377.32,623.92L380.32,626.92L377.32,629.92L374.32,626.92zM381.00,627.43L384.00,630.43L381.00,633.43L378.00,630.43zM384.68,622.14L387.68,625.14L384.68,628.14L381.68,625.14zM388.36,621.73L391.36,624.73L388.36,627.73L385.36,624.73zM392.04,628.85L395.04,631.85L392.04,634.85L389.04,631.85zM395.72,623.45L398.72,626.45L395.72,629.45L392.72,626.45zM399.40,623.30L402.40,626.30L399.40,629.30L396.40,626.30zM403.08,627.31L406.08,630.31L403.08,633.31L400.08,630.31zM406.76,625.46L409.76,628.46L406.76,631.46L403.76,628.46zM410.44,629.56L413.44,632.56L410.44,635.56L407.44,632.56zM414.12,625.24L417.12,628.24L414.12,631.24L411.12,628.24zM417.80,630.60L420.80,633.60L417.80,636.60L414.80,633.60zM421.48,626.39L424.48,629.39L421.48,632.39L418.48,629.39zM425.16,628.63L428.16,631.63L425.16,634.63L422.16,631.63zM428.84,631.21L431.84,634.21L428.84,637.21L425.84,634.21zM432.52,629.75L435.52,632.75L432.52,635.75L429.52,632.75zM436.20,631.69L439.20,634.69L436.20,637.69L433.20,634.69zM439.88,630.45L442.88,633.45L439.88,636.45L436.88,633.45zM443.56,625.89L446.56,628.89L443.56,631.89L440.56,628.89zM447.24,631.77L450.24,634.77L447.24,637.77L444.24,634.77zM450.92,629.78L453.92,632.78L450.92,635.78L447.92,632.78zM454.60,627.88L457.60,630.88L454.60,633.88L451.60,630.88zM458.28,627.09L461.28,630.09L458.28,633.09L455.28,630.09zM461.96,631.76L464.96,634.76L461.96,637.76L458.96,634.76zM465.64,629.95L468.64,632.95L465.64,635.95L462.64,632.95zM469.32,632.48L472.32,635.48L469.32,638.48L466.32,635.48zM473.00,631.39L476.00,634.39L473.00,637.39L470.00,634.39zM476.68,632.75L479.68,635.75L476.68,638.75L473.68,635.75zM480.36,630.04L483.36,633.04L480.36,636.04L477.36,633.04zM484.04,631.02L487.04,634.02L484.04,637.02L481.04,634.02zM487.72,630.47L490.72,633.47L487.72,636.47L484.72,633.47zM491.40,628.04L494.40,631.04L491.40,634.04L488.40,631.04zM495.08,632.98L498.08,635.98L495.08,638.98L492.08,635.98zM498.76,628.53L501.76,631.53L498.76,634.53L495.76,631.53zM502.44,631.86L505.44,634.86L502.44,637.86L499.44,634.86zM506.12,633.13L509.12,636.13L506.12,639.13L503.12,636.13zM509.80,631.05L512.80,634.05L509.80,637.05L506.80,634.05z" fill="#320f64"/>
<polyline points="68.2,634.98 71.88,634.92 75.56,634.86 79.24,634.8 82.92,634.74 86.6,634.68 90.28,634.62 93.96,634.57 97.64,634.51 101.32,634.45 105.0,634.39 108.68,634.33 112.36,634.27 116.04,634.21 119.72,634.15 123.4,634.09 127.08,634.03 130.76,633.97 134.44,633.91 138.12,633.85 141.8,633.79 145.48,633.73 149.16,633.67 152.84,633.62 156.52,633.56 160.2,633.44 163.88,632.27 167.56,630.15 171.24,627.74 174.92,625.18 178.6,622.42 182.28,619.66 185.96,617.8 189.64,616.39 193.32,614.59 197.0,612.75 200.68,610.38 204.36,607.93 208.04,605.6 211.72,603.3 215.4,601.05 219.08,599.21 222.76,597.37 226.44,595.77 230.12,594.54 233.8,593.97 237.48,594.58 241.16,595.09 244.84,595.36 248.52,595.64 252.2,595.86 255.88,596.04 259.56,596.23 263.24,596.79 266.92,597.4 270.6,599.05 274.28,600.89 277.96,603.22 281.64,605.68 285.32,607.19 289.0,608.42 292.68,609.2 296.36,609.81 300.04,610.81 303.72,611.99 307.4,613.17 311.08,614.27 314.76,615.19 318.44,616.11 322.12,617.03 325.8,617.95 329.48,618.87 333.16,620.38 336.84,621.04 340.52,621.54 344.2,620.53 347.88,622.16 351.56,622.44 355.24,623.27 358.92,623.08 362.6,623.64 366.28,624.52 369.96,624.44 373.64,625.27 377.32,624.78 381.0,625.27 384.68,626.89 388.36,626.68 392.04,627.23 395.72,628.04 399.4,627.66 403.08,627.3 406.76,628.97 410.44,628.8 414.12,629.16 417.8,629.31 421.48,630.23 425.16,629.24 428.84,630.25 432.52,629.69 436.2,630.32 439.88,630.71 443.56,630.24 447.24,630.01 450.92,630.96 454.6,631.51 458.28,631.32 461.96,631.09 465.64,631.55 469.32,630.69 473.0,630.74 476.68,631.09 480.36,632.14 484.04,630.96 487.72,630.86 491.4,630.89 495.08,630.83 498.76,631.36 502.44,632.02 506.12,632.58 509.8,631.66" fill="none" stroke="#238a40" stroke-width="1.3" stroke-linejoin="round" opacity="1.0"/>
<path d="M65.70,633.68h5.0v2.6h-5.0zM69.38,633.62h5.0v2.6h-5.0zM73.06,633.56h5.0v2.6h-5.0zM76.74,633.50h5.0v2.6h-5.0zM80.42,633.44h5.0v2.6h-5.0zM84.10,633.38h5.0v2.6h-5.0zM87.78,633.32h5.0v2.6h-5.0zM91.46,633.27h5.0v2.6h-5.0zM95.14,633.21h5.0v2.6h-5.0zM98.82,633.15h5.0v2.6h-5.0zM102.50,633.09h5.0v2.6h-5.0zM106.18,633.03h5.0v2.6h-5.0zM109.86,632.97h5.0v2.6h-5.0zM113.54,632.91h5.0v2.6h-5.0zM117.22,632.85h5.0v2.6h-5.0zM120.90,632.79h5.0v2.6h-5.0zM124.58,632.73h5.0v2.6h-5.0zM128.26,632.67h5.0v2.6h-5.0zM131.94,632.61h5.0v2.6h-5.0zM135.62,632.55h5.0v2.6h-5.0zM139.30,632.49h5.0v2.6h-5.0zM142.98,632.43h5.0v2.6h-5.0zM146.66,632.37h5.0v2.6h-5.0zM150.34,632.32h5.0v2.6h-5.0zM154.02,632.26h5.0v2.6h-5.0zM157.70,632.14h5.0v2.6h-5.0zM161.38,630.97h5.0v2.6h-5.0zM165.06,628.85h5.0v2.6h-5.0zM168.74,626.44h5.0v2.6h-5.0zM172.42,623.88h5.0v2.6h-5.0zM176.10,621.12h5.0v2.6h-5.0zM179.78,618.36h5.0v2.6h-5.0zM183.46,616.50h5.0v2.6h-5.0zM187.14,615.09h5.0v2.6h-5.0zM190.82,613.29h5.0v2.6h-5.0zM194.50,611.45h5.0v2.6h-5.0zM198.18,609.08h5.0v2.6h-5.0zM201.86,606.63h5.0v2.6h-5.0zM205.54,604.30h5.0v2.6h-5.0zM209.22,602.00h5.0v2.6h-5.0zM212.90,599.75h5.0v2.6h-5.0zM216.58,597.91h5.0v2.6h-5.0zM220.26,596.07h5.0v2.6h-5.0zM223.94,594.47h5.0v2.6h-5.0zM227.62,593.24h5.0v2.6h-5.0zM231.30,592.67h5.0v2.6h-5.0zM234.98,593.28h5.0v2.6h-5.0zM238.66,593.79h5.0v2.6h-5.0zM242.34,594.06h5.0v2.6h-5.0zM246.02,594.34h5.0v2.6h-5.0zM249.70,594.56h5.0v2.6h-5.0zM253.38,594.74h5.0v2.6h-5.0zM257.06,594.93h5.0v2.6h-5.0zM260.74,595.49h5.0v2.6h-5.0zM264.42,596.10h5.0v2.6h-5.0zM268.10,597.75h5.0v2.6h-5.0zM271.78,599.59h5.0v2.6h-5.0zM275.46,601.92h5.0v2.6h-5.0zM279.14,604.38h5.0v2.6h-5.0zM282.82,605.89h5.0v2.6h-5.0zM286.50,607.12h5.0v2.6h-5.0zM290.18,607.90h5.0v2.6h-5.0zM293.86,608.51h5.0v2.6h-5.0zM297.54,609.51h5.0v2.6h-5.0zM301.22,610.69h5.0v2.6h-5.0zM304.90,611.87h5.0v2.6h-5.0zM308.58,612.97h5.0v2.6h-5.0zM312.26,613.89h5.0v2.6h-5.0zM315.94,614.81h5.0v2.6h-5.0zM319.62,615.73h5.0v2.6h-5.0zM323.30,616.65h5.0v2.6h-5.0zM326.98,617.57h5.0v2.6h-5.0zM330.66,619.08h5.0v2.6h-5.0zM334.34,619.74h5.0v2.6h-5.0zM338.02,620.24h5.0v2.6h-5.0zM341.70,619.23h5.0v2.6h-5.0zM345.38,620.86h5.0v2.6h-5.0zM349.06,621.14h5.0v2.6h-5.0zM352.74,621.97h5.0v2.6h-5.0zM356.42,621.78h5.0v2.6h-5.0zM360.10,622.34h5.0v2.6h-5.0zM363.78,623.22h5.0v2.6h-5.0zM367.46,623.14h5.0v2.6h-5.0zM371.14,623.97h5.0v2.6h-5.0zM374.82,623.48h5.0v2.6h-5.0zM378.50,623.97h5.0v2.6h-5.0zM382.18,625.59h5.0v2.6h-5.0zM385.86,625.38h5.0v2.6h-5.0zM389.54,625.93h5.0v2.6h-5.0zM393.22,626.74h5.0v2.6h-5.0zM396.90,626.36h5.0v2.6h-5.0zM400.58,626.00h5.0v2.6h-5.0zM404.26,627.67h5.0v2.6h-5.0zM407.94,627.50h5.0v2.6h-5.0zM411.62,627.86h5.0v2.6h-5.0zM415.30,628.01h5.0v2.6h-5.0zM418.98,628.93h5.0v2.6h-5.0zM422.66,627.94h5.0v2.6h-5.0zM426.34,628.95h5.0v2.6h-5.0zM430.02,628.39h5.0v2.6h-5.0zM433.70,629.02h5.0v2.6h-5.0zM437.38,629.41h5.0v2.6h-5.0zM441.06,628.94h5.0v2.6h-5.0zM444.74,628.71h5.0v2.6h-5.0zM448.42,629.66h5.0v2.6h-5.0zM452.10,630.21h5.0v2.6h-5.0zM455.78,630.02h5.0v2.6h-5.0zM459.46,629.79h5.0v2.6h-5.0zM463.14,630.25h5.0v2.6h-5.0zM466.82,629.39h5.0v2.6h-5.0zM470.50,629.44h5.0v2.6h-5.0zM474.18,629.79h5.0v2.6h-5.0zM477.86,630.84h5.0v2.6h-5.0zM481.54,629.66h5.0v2.6h-5.0zM485.22,629.56h5.0v2.6h-5.0zM488.90,629.59h5.0v2.6h-5.0zM492.58,629.53h5.0v2.6h-5.0zM496.26,630.06h5.0v2.6h-5.0zM499.94,630.72h5.0v2.6h-5.0zM503.62,631.28h5.0v2.6h-5.0zM507.30,630.36h5.0v2.6h-5.0z" fill="#238a40"/>
<polyline points="68.2,634.98 71.88,634.93 75.56,634.88 79.24,634.82 82.92,634.77 86.6,634.71 90.28,634.66 93.96,634.61 97.64,634.55 101.32,634.5 105.0,634.45 108.68,634.39 112.36,634.34 116.04,634.29 119.72,634.23 123.4,634.18 127.08,634.13 130.76,634.07 134.44,634.02 138.12,633.96 141.8,633.91 145.48,633.86 149.16,633.8 152.84,633.75 156.52,633.7 160.2,633.64 163.88,633.59 167.56,633.54 171.24,633.35 174.92,632.92 178.6,632.49 182.28,632.09 185.96,631.69 189.64,631.29 193.32,630.25 197.0,629.15 200.68,628.05 204.36,626.94 208.04,625.84 211.72,624.73 215.4,623.63 219.08,622.53 222.76,621.42 226.44,620.32 230.12,619.21 233.8,618.11 237.48,617.01 241.16,616.02 244.84,615.28 248.52,614.55 252.2,613.81 255.88,613.41 259.56,613.04 263.24,612.68 266.92,612.31 270.6,611.94 274.28,611.57 277.96,611.28 281.64,611.5 285.32,611.72 289.0,611.94 292.68,612.11 296.36,612.25 300.04,612.74 303.72,613.24 307.4,612.78 311.08,614.67 314.76,613.97 318.44,615.81 322.12,615.98 325.8,618.07 329.48,617.84 333.16,619.46 336.84,620.23 340.52,621.03 344.2,621.25 347.88,622.66 351.56,623.53 355.24,622.72 358.92,623.95 362.6,625.25 366.28,625.41 369.96,625.46 373.64,625.75 377.32,627.21 381.0,626.19 384.68,627.63 388.36,628.14 392.04,627.41 395.72,628.04 399.4,628.38 403.08,629.0 406.76,628.94 410.44,630.01 414.12,630.13 417.8,629.05 421.48,629.88 425.16,628.45 428.84,628.39 432.52,629.3 436.2,629.56 439.88,629.63 443.56,629.96 447.24,629.79 450.92,628.89 454.6,629.7 458.28,630.03 461.96,628.75 465.64,629.44 469.32,628.94 473.0,628.97 476.68,629.55 480.36,629.9 484.04,630.43 487.72,629.13 491.4,629.78 495.08,630.61 498.76,630.28 502.44,629.96 506.12,629.54 509.8,630.21" fill="none" stroke="#7a0a5e" stroke-width="1.0" stroke-linejoin="round" opacity="1.0"/>
<path d="M65.70,634.98a2.5,2.5 0 1,0 5,0a2.5,2.5 0 1,0 -5,0zM69.38,634.93a2.5,2.5 0 1,0 5,0a2.5,2.5 0 1,0 -5,0zM73.06,634.88a2.5,2.5 0 1,0 5,0a2.5,2.5 0 1,0 -5,0zM76.74,634.82a2.5,2.5 0 1,0 5,0a2.5,2.5 0 1,0 -5,0zM80.42,634.77a2.5,2.5 0 1,0 5,0a2.5,2.5 0 1,0 -5,0zM84.10,634.71a2.5,2.5 0 1,0 5,0a2.5,2.5 0 1,0 -5,0zM87.78,634.66a2.5,2.5 0 1,0 5,0a2.5,2.5 0 1,0 -5,0zM91.46,634.61a2.5,2.5 0 1,0 5,0a2.5,2.5 0 1,0 -5,0zM95.14,634.55a2.5,2.5 0 1,0 5,0a2.5,2.5 0 1,0 -5,0zM98.82,634.50a2.5,2.5 0 1,0 5,0a2.5,2.5 0 1,0 -5,0zM102.50,634.45a2.5,2.5 0 1,0 5,0a2.5,2.5 0 1,0 -5,0zM106.18,634.39a2.5,2.5 0 1,0 5,0a2.5,2.5 0 1,0 -5,0zM109.86,634.34a2.5,2.5 0 1,0 5,0a2.5,2.5 0 1,0 -5,0zM113.54,634.29a2.5,2.5 0 1,0 5,0a2.5,2.5 0 1,0 -5,0zM117.22,634.23a2.5,2.5 0 1,0 5,0a2.5,2.5 0 1,0 -5,0zM120.90,634.18a2.5,2.5 0 1,0 5,0a2.5,2.5 0 1,0 -5,0zM124.58,634.13a2.5,2.5 0 1,0 5,0a2.5,2.5 0 1,0 -5,0zM128.26,634.07a2.5,2.5 0 1,0 5,0a2.5,2.5 0 1,0 -5,0zM131.94,634.02a2.5,2.5 0 1,0 5,0a2.5,2.5 0 1,0 -5,0zM135.62,633.96a2.5,2.5 0 1,0 5,0a2.5,2.5 0 1,0 -5,0zM139.30,633.91a2.5,2.5 0 1,0 5,0a2.5,2.5 0 1,0 -5,0zM142.98,633.86a2.5,2.5 0 1,0 5,0a2.5,2.5 0 1,0 -5,0zM146.66,633.80a2.5,2.5 0 1,0 5,0a2.5,2.5 0 1,0 -5,0zM150.34,633.75a2.5,2.5 0 1,0 5,0a2.5,2.5 0 1,0 -5,0zM154.02,633.70a2.5,2.5 0 1,0 5,0a2.5,2.5 0 1,0 -5,0zM157.70,633.64a2.5,2.5 0 1,0 5,0a2.5,2.5 0 1,0 -5,0zM161.38,633.59a2.5,2.5 0 1,0 5,0a2.5,2.5 0 1,0 -5,0zM165.06,633.54a2.5,2.5 0 1,0 5,0a2.5,2.5 0 1,0 -5,0zM168.74,633.35a2.5,2.5 0 1,0 5,0a2.5,2.5 0 1,0 -5,0zM172.42,632.92a2.5,2.5 0 1,0 5,0a2.5,2.5 0 1,0 -5,0zM176.10,632.49a2.5,2.5 0 1,0 5,0a2.5,2.5 0 1,0 -5,0zM179.78,632.09a2.5,2.5 0 1,0 5,0a2.5,2.5 0 1,0 -5,0zM183.46,631.69a2.5,2.5 0 1,0 5,0a2.5,2.5 0 1,0 -5,0zM187.14,631.29a2.5,2.5 0 1,0 5,0a2.5,2.5 0 1,0 -5,0zM190.82,630.25a2.5,2.5 0 1,0 5,0a2.5,2.5 0 1,0 -5,0zM194.50,629.15a2.5,2.5 0 1,0 5,0a2.5,2.5 0 1,0 -5,0zM198.18,628.05a2.5,2.5 0 1,0 5,0a2.5,2.5 0 1,0 -5,0zM201.86,626.94a2.5,2.5 0 1,0 5,0a2.5,2.5 0 1,0 -5,0zM205.54,625.84a2.5,2.5 0 1,0 5,0a2.5,2.5 0 1,0 -5,0zM209.22,624.73a2.5,2.5 0 1,0 5,0a2.5,2.5 0 1,0 -5,0zM212.90,623.63a2.5,2.5 0 1,0 5,0a2.5,2.5 0 1,0 -5,0zM216.58,622.53a2.5,2.5 0 1,0 5,0a2.5,2.5 0 1,0 -5,0zM220.26,621.42a2.5,2.5 0 1,0 5,0a2.5,2.5 0 1,0 -5,0zM223.94,620.32a2.5,2.5 0 1,0 5,0a2.5,2.5 0 1,0 -5,0zM227.62,619.21a2.5,2.5 0 1,0 5,0a2.5,2.5 0 1,0 -5,0zM231.30,618.11a2.5,2.5 0 1,0 5,0a2.5,2.5 0 1,0 -5,0zM234.98,617.01a2.5,2.5 0 1,0 5,0a2.5,2.5 0 1,0 -5,0zM238.66,616.02a2.5,2.5 0 1,0 5,0a2.5,2.5 0 1,0 -5,0zM242.34,615.28a2.5,2.5 0 1,0 5,0a2.5,2.5 0 1,0 -5,0zM246.02,614.55a2.5,2.5 0 1,0 5,0a2.5,2.5 0 1,0 -5,0zM249.70,613.81a2.5,2.5 0 1,0 5,0a2.5,2.5 0 1,0 -5,0zM253.38,613.41a2.5,2.5 0 1,0 5,0a2.5,2.5 0 1,0 -5,0zM257.06,613.04a2.5,2.5 0 1,0 5,0a2.5,2.5 0 1,0 -5,0zM260.74,612.68a2.5,2.5 0 1,0 5,0a2.5,2.5 0 1,0 -5,0zM264.42,612.31a2.5,2.5 0 1,0 5,0a2.5,2.5 0 1,0 -5,0zM268.10,611.94a2.5,2.5 0 1,0 5,0a2.5,2.5 0 1,0 -5,0zM271.78,611.57a2.5,2.5 0 1,0 5,0a2.5,2.5 0 1,0 -5,0zM275.46,611.28a2.5,2.5 0 1,0 5,0a2.5,2.5 0 1,0 -5,0zM279.14,611.50a2.5,2.5 0 1,0 5,0a2.5,2.5 0 1,0 -5,0zM282.82,611.72a2.5,2.5 0 1,0 5,0a2.5,2.5 0 1,0 -5,0zM286.50,611.94a2.5,2.5 0 1,0 5,0a2.5,2.5 0 1,0 -5,0zM290.18,612.11a2.5,2.5 0 1,0 5,0a2.5,2.5 0 1,0 -5,0zM293.86,612.25a2.5,2.5 0 1,0 5,0a2.5,2.5 0 1,0 -5,0zM297.54,612.74a2.5,2.5 0 1,0 5,0a2.5,2.5 0 1,0 -5,0zM301.22,613.24a2.5,2.5 0 1,0 5,0a2.5,2.5 0 1,0 -5,0zM304.90,612.78a2.5,2.5 0 1,0 5,0a2.5,2.5 0 1,0 -5,0zM308.58,614.67a2.5,2.5 0 1,0 5,0a2.5,2.5 0 1,0 -5,0zM312.26,613.97a2.5,2.5 0 1,0 5,0a2.5,2.5 0 1,0 -5,0zM315.94,615.81a2.5,2.5 0 1,0 5,0a2.5,2.5 0 1,0 -5,0zM319.62,615.98a2.5,2.5 0 1,0 5,0a2.5,2.5 0 1,0 -5,0zM323.30,618.07a2.5,2.5 0 1,0 5,0a2.5,2.5 0 1,0 -5,0zM326.98,617.84a2.5,2.5 0 1,0 5,0a2.5,2.5 0 1,0 -5,0zM330.66,619.46a2.5,2.5 0 1,0 5,0a2.5,2.5 0 1,0 -5,0zM334.34,620.23a2.5,2.5 0 1,0 5,0a2.5,2.5 0 1,0 -5,0zM338.02,621.03a2.5,2.5 0 1,0 5,0a2.5,2.5 0 1,0 -5,0zM341.70,621.25a2.5,2.5 0 1,0 5,0a2.5,2.5 0 1,0 -5,0zM345.38,622.66a2.5,2.5 0 1,0 5,0a2.5,2.5 0 1,0 -5,0zM349.06,623.53a2.5,2.5 0 1,0 5,0a2.5,2.5 0 1,0 -5,0zM352.74,622.72a2.5,2.5 0 1,0 5,0a2.5,2.5 0 1,0 -5,0zM356.42,623.95a2.5,2.5 0 1,0 5,0a2.5,2.5 0 1,0 -5,0zM360.10,625.25a2.5,2.5 0 1,0 5,0a2.5,2.5 0 1,0 -5,0zM363.78,625.41a2.5,2.5 0 1,0 5,0a2.5,2.5 0 1,0 -5,0zM367.46,625.46a2.5,2.5 0 1,0 5,0a2.5,2.5 0 1,0 -5,0zM371.14,625.75a2.5,2.5 0 1,0 5,0a2.5,2.5 0 1,0 -5,0zM374.82,627.21a2.5,2.5 0 1,0 5,0a2.5,2.5 0 1,0 -5,0zM378.50,626.19a2.5,2.5 0 1,0 5,0a2.5,2.5 0 1,0 -5,0zM382.18,627.63a2.5,2.5 0 1,0 5,0a2.5,2.5 0 1,0 -5,0zM385.86,628.14a2.5,2.5 0 1,0 5,0a2.5,2.5 0 1,0 -5,0zM389.54,627.41a2.5,2.5 0 1,0 5,0a2.5,2.5 0 1,0 -5,0zM393.22,628.04a2.5,2.5 0 1,0 5,0a2.5,2.5 0 1,0 -5,0zM396.90,628.38a2.5,2.5 0 1,0 5,0a2.5,2.5 0 1,0 -5,0zM400.58,629.00a2.5,2.5 0 1,0 5,0a2.5,2.5 0 1,0 -5,0zM404.26,628.94a2.5,2.5 0 1,0 5,0a2.5,2.5 0 1,0 -5,0zM407.94,630.01a2.5,2.5 0 1,0 5,0a2.5,2.5 0 1,0 -5,0zM411.62,630.13a2.5,2.5 0 1,0 5,0a2.5,2.5 0 1,0 -5,0zM415.30,629.05a2.5,2.5 0 1,0 5,0a2.5,2.5 0 1,0 -5,0zM418.98,629.88a2.5,2.5 0 1,0 5,0a2.5,2.5 0 1,0 -5,0zM422.66,628.45a2.5,2.5 0 1,0 5,0a2.5,2.5 0 1,0 -5,0zM426.34,628.39a2.5,2.5 0 1,0 5,0a2.5,2.5 0 1,0 -5,0zM430.02,629.30a2.5,2.5 0 1,0 5,0a2.5,2.5 0 1,0 -5,0zM433.70,629.56a2.5,2.5 0 1,0 5,0a2.5,2.5 0 1,0 -5,0zM437.38,629.63a2.5,2.5 0 1,0 5,0a2.5,2.5 0 1,0 -5,0zM441.06,629.96a2.5,2.5 0 1,0 5,0a2.5,2.5 0 1,0 -5,0zM444.74,629.79a2.5,2.5 0 1,0 5,0a2.5,2.5 0 1,0 -5,0zM448.42,628.89a2.5,2.5 0 1,0 5,0a2.5,2.5 0 1,0 -5,0zM452.10,629.70a2.5,2.5 0 1,0 5,0a2.5,2.5 0 1,0 -5,0zM455.78,630.03a2.5,2.5 0 1,0 5,0a2.5,2.5 0 1,0 -5,0zM459.46,628.75a2.5,2.5 0 1,0 5,0a2.5,2.5 0 1,0 -5,0zM463.14,629.44a2.5,2.5 0 1,0 5,0a2.5,2.5 0 1,0 -5,0zM466.82,628.94a2.5,2.5 0 1,0 5,0a2.5,2.5 0 1,0 -5,0zM470.50,628.97a2.5,2.5 0 1,0 5,0a2.5,2.5 0 1,0 -5,0zM474.18,629.55a2.5,2.5 0 1,0 5,0a2.5,2.5 0 1,0 -5,0zM477.86,629.90a2.5,2.5 0 1,0 5,0a2.5,2.5 0 1,0 -5,0zM481.54,630.43a2.5,2.5 0 1,0 5,0a2.5,2.5 0 1,0 -5,0zM485.22,629.13a2.5,2.5 0 1,0 5,0a2.5,2.5 0 1,0 -5,0zM488.90,629.78a2.5,2.5 0 1,0 5,0a2.5,2.5 0 1,0 -5,0zM492.58,630.61a2.5,2.5 0 1,0 5,0a2.5,2.5 0 1,0 -5,0zM496.26,630.28a2.5,2.5 0 1,0 5,0a2.5,2.5 0 1,0 -5,0zM499.94,629.96a2.5,2.5 0 1,0 5,0a2.5,2.5 0 1,0 -5,0zM503.62,629.54a2.5,2.5 0 1,0 5,0a2.5,2.5 0 1,0 -5,0zM507.30,630.21a2.5,2.5 0 1,0 5,0a2.5,2.5 0 1,0 -5,0z" fill="#7a0a5e"/>
<polyline points="68.2,635.05 71.88,636.15 75.56,635.97 79.24,634.71 82.92,636.02 86.6,635.54 90.28,634.35 93.96,636.16 97.64,634.76 101.32,634.86 105.0,635.09 108.68,635.41 112.36,634.48 116.04,635.6 119.72,635.88 123.4,635.24 127.08,635.79 130.76,635.45 134.44,635.84 138.12,634.55 141.8,634.9 145.48,635.11 149.16,634.38 152.84,636.11 156.52,635.43 160.2,634.35 163.88,635.31 167.56,634.97 171.24,634.51 174.92,634.45 178.6,635.05 182.28,634.26 185.96,635.24 189.64,635.14 193.32,634.35 197.0,635.84 200.68,634.17 204.36,634.43 208.04,635.71 211.72,634.51 215.4,634.91 219.08,635.18 222.76,634.93 226.44,635.04 230.12,635.05 233.8,635.0 237.48,634.15 241.16,635.66 244.84,634.58 248.52,634.11 252.2,634.82 255.88,635.63 259.56,635.25 263.24,634.9 266.92,634.94 270.6,634.42 274.28,635.21 277.96,634.67 281.64,634.09 285.32,634.22 289.0,634.13 292.68,635.31 296.36,635.7 300.04,635.44 303.72,634.36 307.4,634.21 311.08,635.82 314.76,634.66 318.44,634.24 322.12,635.04 325.8,635.13 329.48,634.97 333.16,634.78 336.84,634.48 340.52,634.86 344.2,634.78 347.88,635.22 351.56,634.75 355.24,634.55 358.92,635.81 362.6,634.05 366.28,635.34 369.96,634.66 373.64,635.43 377.32,635.23 381.0,634.94 384.68,635.02 388.36,634.25 392.04,633.82 395.72,635.27 399.4,634.29 403.08,633.99 406.76,635.39 410.44,634.94 414.12,633.82 417.8,634.78 421.48,634.07 425.16,635.46 428.84,634.27 432.52,635.6 436.2,634.94 439.88,633.87 443.56,634.52 447.24,635.63 450.92,635.1 454.6,634.0 458.28,634.42 461.96,634.22 465.64,633.86 469.32,634.85 473.0,635.05 476.68,634.09 480.36,634.75 484.04,635.36 487.72,635.42 491.4,633.97 495.08,633.77 498.76,635.44 502.44,634.26 506.12,633.94 509.8,635.2" fill="none" stroke="#ee3a16" stroke-width="1.6" stroke-linejoin="round" opacity="1.0"/>
<path d="M68.20,631.65L71.50,638.05L64.90,638.05zM71.88,632.75L75.18,639.15L68.58,639.15zM75.56,632.57L78.86,638.97L72.26,638.97zM79.24,631.31L82.54,637.71L75.94,637.71zM82.92,632.62L86.22,639.02L79.62,639.02zM86.60,632.14L89.90,638.54L83.30,638.54zM90.28,630.95L93.58,637.35L86.98,637.35zM93.96,632.76L97.26,639.16L90.66,639.16zM97.64,631.36L100.94,637.76L94.34,637.76zM101.32,631.46L104.62,637.86L98.02,637.86zM105.00,631.69L108.30,638.09L101.70,638.09zM108.68,632.01L111.98,638.41L105.38,638.41zM112.36,631.08L115.66,637.48L109.06,637.48zM116.04,632.20L119.34,638.60L112.74,638.60zM119.72,632.48L123.02,638.88L116.42,638.88zM123.40,631.84L126.70,638.24L120.10,638.24zM127.08,632.39L130.38,638.79L123.78,638.79zM130.76,632.05L134.06,638.45L127.46,638.45zM134.44,632.44L137.74,638.84L131.14,638.84zM138.12,631.15L141.42,637.55L134.82,637.55zM141.80,631.50L145.10,637.90L138.50,637.90zM145.48,631.71L148.78,638.11L142.18,638.11zM149.16,630.98L152.46,637.38L145.86,637.38zM152.84,632.71L156.14,639.11L149.54,639.11zM156.52,632.03L159.82,638.43L153.22,638.43zM160.20,630.95L163.50,637.35L156.90,637.35zM163.88,631.91L167.18,638.31L160.58,638.31zM167.56,631.57L170.86,637.97L164.26,637.97zM171.24,631.11L174.54,637.51L167.94,637.51zM174.92,631.05L178.22,637.45L171.62,637.45zM178.60,631.65L181.90,638.05L175.30,638.05zM182.28,630.86L185.58,637.26L178.98,637.26zM185.96,631.84L189.26,638.24L182.66,638.24zM189.64,631.74L192.94,638.14L186.34,638.14zM193.32,630.95L196.62,637.35L190.02,637.35zM197.00,632.44L200.30,638.84L193.70,638.84zM200.68,630.77L203.98,637.17L197.38,637.17zM204.36,631.03L207.66,637.43L201.06,637.43zM208.04,632.31L211.34,638.71L204.74,638.71zM211.72,631.11L215.02,637.51L208.42,637.51zM215.40,631.51L218.70,637.91L212.10,637.91zM219.08,631.78L222.38,638.18L215.78,638.18zM222.76,631.53L226.06,637.93L219.46,637.93zM226.44,631.64L229.74,638.04L223.14,638.04zM230.12,631.65L233.42,638.05L226.82,638.05zM233.80,631.60L237.10,638.00L230.50,638.00zM237.48,630.75L240.78,637.15L234.18,637.15zM241.16,632.26L244.46,638.66L237.86,638.66zM244.84,631.18L248.14,637.58L241.54,637.58zM248.52,630.71L251.82,637.11L245.22,637.11zM252.20,631.42L255.50,637.82L248.90,637.82zM255.88,632.23L259.18,638.63L252.58,638.63zM259.56,631.85L262.86,638.25L256.26,638.25zM263.24,631.50L266.54,637.90L259.94,637.90zM266.92,631.54L270.22,637.94L263.62,637.94zM270.60,631.02L273.90,637.42L267.30,637.42zM274.28,631.81L277.58,638.21L270.98,638.21zM277.96,631.27L281.26,637.67L274.66,637.67zM281.64,630.69L284.94,637.09L278.34,637.09zM285.32,630.82L288.62,637.22L282.02,637.22zM289.00,630.73L292.30,637.13L285.70,637.13zM292.68,631.91L295.98,638.31L289.38,638.31zM296.36,632.30L299.66,638.70L293.06,638.70zM300.04,632.04L303.34,638.44L296.74,638.44zM303.72,630.96L307.02,637.36L300.42,637.36zM307.40,630.81L310.70,637.21L304.10,637.21zM311.08,632.42L314.38,638.82L307.78,638.82zM314.76,631.26L318.06,637.66L311.46,637.66zM318.44,630.84L321.74,637.24L315.14,637.24zM322.12,631.64L325.42,638.04L318.82,638.04zM325.80,631.73L329.10,638.13L322.50,638.13zM329.48,631.57L332.78,637.97L326.18,637.97zM333.16,631.38L336.46,637.78L329.86,637.78zM336.84,631.08L340.14,637.48L333.54,637.48zM340.52,631.46L343.82,637.86L337.22,637.86zM344.20,631.38L347.50,637.78L340.90,637.78zM347.88,631.82L351.18,638.22L344.58,638.22zM351.56,631.35L354.86,637.75L348.26,637.75zM355.24,631.15L358.54,637.55L351.94,637.55zM358.92,632.41L362.22,638.81L355.62,638.81zM362.60,630.65L365.90,637.05L359.30,637.05zM366.28,631.94L369.58,638.34L362.98,638.34zM369.96,631.26L373.26,637.66L366.66,637.66zM373.64,632.03L376.94,638.43L370.34,638.43zM377.32,631.83L380.62,638.23L374.02,638.23zM381.00,631.54L384.30,637.94L377.70,637.94zM384.68,631.62L387.98,638.02L381.38,638.02zM388.36,630.85L391.66,637.25L385.06,637.25zM392.04,630.42L395.34,636.82L388.74,636.82zM395.72,631.87L399.02,638.27L392.42,638.27zM399.40,630.89L402.70,637.29L396.10,637.29zM403.08,630.59L406.38,636.99L399.78,636.99zM406.76,631.99L410.06,638.39L403.46,638.39zM410.44,631.54L413.74,637.94L407.14,637.94zM414.12,630.42L417.42,636.82L410.82,636.82zM417.80,631.38L421.10,637.78L414.50,637.78zM421.48,630.67L424.78,637.07L418.18,637.07zM425.16,632.06L428.46,638.46L421.86,638.46zM428.84,630.87L432.14,637.27L425.54,637.27zM432.52,632.20L435.82,638.60L429.22,638.60zM436.20,631.54L439.50,637.94L432.90,637.94zM439.88,630.47L443.18,636.87L436.58,636.87zM443.56,631.12L446.86,637.52L440.26,637.52zM447.24,632.23L450.54,638.63L443.94,638.63zM450.92,631.70L454.22,638.10L447.62,638.10zM454.60,630.60L457.90,637.00L451.30,637.00zM458.28,631.02L461.58,637.42L454.98,637.42zM461.96,630.82L465.26,637.22L458.66,637.22zM465.64,630.46L468.94,636.86L462.34,636.86zM469.32,631.45L472.62,637.85L466.02,637.85zM473.00,631.65L476.30,638.05L469.70,638.05zM476.68,630.69L479.98,637.09L473.38,637.09zM480.36,631.35L483.66,637.75L477.06,637.75zM484.04,631.96L487.34,638.36L480.74,638.36zM487.72,632.02L491.02,638.42L484.42,638.42zM491.40,630.57L494.70,636.97L488.10,636.97zM495.08,630.37L498.38,636.77L491.78,636.77zM498.76,632.04L502.06,638.44L495.46,638.44zM502.44,630.86L505.74,637.26L499.14,637.26zM506.12,630.54L509.42,636.94L502.82,636.94zM509.80,631.80L513.10,638.20L506.50,638.20z" fill="#ee3a16"/>
<text x="73.85" y="295.7" font-size="10.9" font-weight="bold" text-anchor="middle" >2</text>
<text x="110.55" y="295.7" font-size="10.9" font-weight="bold" text-anchor="middle" >7</text>
<text x="147.24" y="295.7" font-size="10.9" font-weight="bold" text-anchor="middle" >12</text>
<text x="183.94" y="295.7" font-size="10.9" font-weight="bold" text-anchor="middle" >17</text>
<text x="220.64" y="295.7" font-size="10.9" font-weight="bold" text-anchor="middle" >22</text>
<text x="257.34" y="295.7" font-size="10.9" font-weight="bold" text-anchor="middle" >27</text>
<text x="294.03" y="295.7" font-size="10.9" font-weight="bold" text-anchor="middle" >32</text>
<text x="330.73" y="295.7" font-size="10.9" font-weight="bold" text-anchor="middle" >37</text>
<text x="367.43" y="295.7" font-size="10.9" font-weight="bold" text-anchor="middle" >42</text>
<text x="404.13" y="295.7" font-size="10.9" font-weight="bold" text-anchor="middle" >47</text>
<text x="440.82" y="295.7" font-size="10.9" font-weight="bold" text-anchor="middle" >52</text>
<text x="477.52" y="295.7" font-size="10.9" font-weight="bold" text-anchor="middle" >57</text>
<text x="514.22" y="295.7" font-size="10.9" font-weight="bold" text-anchor="middle" >62</text>
<text x="69.24" y="658.8" font-size="12" font-weight="bold" text-anchor="middle" >2</text>
<text x="105.98" y="658.8" font-size="12" font-weight="bold" text-anchor="middle" >7</text>
<text x="142.71" y="658.8" font-size="12" font-weight="bold" text-anchor="middle" >12</text>
<text x="179.44" y="658.8" font-size="12" font-weight="bold" text-anchor="middle" >17</text>
<text x="216.17" y="658.8" font-size="12" font-weight="bold" text-anchor="middle" >22</text>
<text x="252.91" y="658.8" font-size="12" font-weight="bold" text-anchor="middle" >27</text>
<text x="289.64" y="658.8" font-size="12" font-weight="bold" text-anchor="middle" >32</text>
<text x="326.37" y="658.8" font-size="12" font-weight="bold" text-anchor="middle" >37</text>
<text x="363.1" y="658.8" font-size="12" font-weight="bold" text-anchor="middle" >42</text>
<text x="399.84" y="658.8" font-size="12" font-weight="bold" text-anchor="middle" >47</text>
<text x="436.57" y="658.8" font-size="12" font-weight="bold" text-anchor="middle" >52</text>
<text x="473.3" y="658.8" font-size="12" font-weight="bold" text-anchor="middle" >57</text>
<text x="510.03" y="658.8" font-size="12" font-weight="bold" text-anchor="middle" >62</text>
<rect x="334.2" y="40.8" width="168.60000000000002" height="106.50000000000001" fill="#fff"/>
<line x1="337.5" y1="50.8" x2="361.2" y2="50.8" stroke="#000000" stroke-width="1" opacity="0.85"/>
<path d="M346.00,48.30h5v5h-5z" fill="#000000"/>
<text x="366.3" y="55.5" font-size="13.6" font-weight="normal" text-anchor="start" >Normal Plasma (NP)</text>
<line x1="337.5" y1="68.69999999999999" x2="361.2" y2="68.69999999999999" stroke="#f8e40a" stroke-width="1" opacity="0.85"/>
<path d="M348.50,65.80L351.30,71.20L345.70,71.20z" fill="#f8e40a"/>
<text x="366.3" y="73.4" font-size="13.6" font-weight="normal" text-anchor="start" >10% NP</text>
<line x1="337.5" y1="86.6" x2="361.2" y2="86.6" stroke="#320f64" stroke-width="1" opacity="0.85"/>
<path d="M348.50,83.80L351.30,86.60L348.50,89.40L345.70,86.60z" fill="#320f64"/>
<text x="366.3" y="91.3" font-size="13.6" font-weight="normal" text-anchor="start" >1% NP</text>
<line x1="337.5" y1="104.5" x2="361.2" y2="104.5" stroke="#238a40" stroke-width="1" opacity="0.85"/>
<path d="M346.00,103.20h5v2.6h-5z" fill="#238a40"/>
<text x="366.3" y="109.2" font-size="13.6" font-weight="normal" text-anchor="start" >0.1% NP</text>
<line x1="337.5" y1="122.39999999999999" x2="361.2" y2="122.39999999999999" stroke="#7a0a5e" stroke-width="1" opacity="0.85"/>
<path d="M346.00,122.40a2.5,2.5 0 1,0 5,0a2.5,2.5 0 1,0 -5,0z" fill="#7a0a5e"/>
<text x="366.3" y="127.1" font-size="13.6" font-weight="normal" text-anchor="start" >0.01% NP</text>
<line x1="337.5" y1="140.3" x2="361.2" y2="140.3" stroke="#ee3a16" stroke-width="1" opacity="0.85"/>
<path d="M348.50,137.40L351.30,142.80L345.70,142.80z" fill="#ee3a16"/>
<text x="366.3" y="143.8" font-size="13.6" font-weight="normal" text-anchor="start" >FVIII Deficient Plasma</text>
<rect x="338.3" y="406.7" width="161.09999999999997" height="105.40000000000003" fill="#fff"/>
<line x1="342" y1="416.3" x2="365.2" y2="416.3" stroke="#000000" stroke-width="1" opacity="0.85"/>
<path d="M351.20,413.80h5v5h-5z" fill="#000000"/>
<text x="370.4" y="421.0" font-size="13.6" font-weight="normal" text-anchor="start" >Normal Plasma (NP)</text>
<line x1="342" y1="434.0" x2="365.2" y2="434.0" stroke="#f8e40a" stroke-width="1" opacity="0.85"/>
<path d="M353.70,431.10L356.50,436.50L350.90,436.50z" fill="#f8e40a"/>
<text x="370.4" y="438.7" font-size="13.6" font-weight="normal" text-anchor="start" >10% NP</text>
<line x1="342" y1="451.7" x2="365.2" y2="451.7" stroke="#320f64" stroke-width="1" opacity="0.85"/>
<path d="M353.70,448.90L356.50,451.70L353.70,454.50L350.90,451.70z" fill="#320f64"/>
<text x="370.4" y="456.4" font-size="13.6" font-weight="normal" text-anchor="start" >1% NP</text>
<line x1="342" y1="469.4" x2="365.2" y2="469.4" stroke="#238a40" stroke-width="1" opacity="0.85"/>
<path d="M351.20,468.10h5v2.6h-5z" fill="#238a40"/>
<text x="370.4" y="474.1" font-size="13.6" font-weight="normal" text-anchor="start" >0.1% NP</text>
<line x1="342" y1="487.1" x2="365.2" y2="487.1" stroke="#7a0a5e" stroke-width="1" opacity="0.85"/>
<path d="M351.20,487.10a2.5,2.5 0 1,0 5,0a2.5,2.5 0 1,0 -5,0z" fill="#7a0a5e"/>
<text x="370.4" y="491.8" font-size="13.6" font-weight="normal" text-anchor="start" >0.01% NP</text>
<line x1="342" y1="503.9" x2="365.2" y2="503.9" stroke="#ee3a16" stroke-width="1" opacity="0.85"/>
<path d="M353.70,501.00L356.50,506.40L350.90,506.40z" fill="#ee3a16"/>
<text x="370.4" y="508.6" font-size="13.6" font-weight="normal" text-anchor="start" >FIX Deficient Plasma</text>
<rect x="71.3" y="751.5" width="447.3" height="250.79999999999995" fill="#cdc5c3" stroke="#958d8e" stroke-width="1"/>
<text x="0.6" y="739.2" font-size="24.5" font-weight="bold" text-anchor="start" >C</text>
<text x="122.8" y="739.6" font-size="13.8" font-weight="bold" text-anchor="start" >FTGT AUC for Normal Plasma: Dose Response</text>
<text x="65.6" y="756.2" font-size="13.2" font-weight="normal" text-anchor="end" >60&#8201;000</text>
<text x="65.6" y="798.0" font-size="13.2" font-weight="normal" text-anchor="end" >50&#8201;000</text>
<text x="65.6" y="839.8" font-size="13.2" font-weight="normal" text-anchor="end" >40&#8201;000</text>
<text x="65.6" y="881.6" font-size="13.2" font-weight="normal" text-anchor="end" >30&#8201;000</text>
<text x="65.6" y="923.4" font-size="13.2" font-weight="normal" text-anchor="end" >20&#8201;000</text>
<text x="65.6" y="965.2" font-size="13.2" font-weight="normal" text-anchor="end" >10&#8201;000</text>
<text x="65.6" y="1007.0" font-size="13.2" font-weight="normal" text-anchor="end" >0</text>
<text transform="translate(12.7,875.8) rotate(-90)" font-size="16" font-weight="bold" text-anchor="middle">AUC</text>
<text x="294.9" y="1058.5" font-size="15" font-weight="bold" text-anchor="middle" letter-spacing="0.7">% Normal Plasma</text>
<rect x="86.40" y="823.9" width="21.9" height="178.40" fill="#978fc0" stroke="#2b1a33" stroke-width="1"/>
<rect x="108.30" y="816.3" width="21.9" height="186.00" fill="#a70f4c" stroke="#2b1a33" stroke-width="1"/>
<path d="M97.35,823.9V812.9M93.85,812.9h7" stroke="#222" stroke-width="1.4" fill="none"/>
<path d="M119.25,816.3V800.2M115.75,800.2h7" stroke="#222" stroke-width="1.4" fill="none"/>
<rect x="161.20" y="875.5" width="21.9" height="126.80" fill="#978fc0" stroke="#2b1a33" stroke-width="1"/>
<rect x="183.10" y="882.7" width="21.9" height="119.60" fill="#a70f4c" stroke="#2b1a33" stroke-width="1"/>
<path d="M172.15,875.5V865.9M168.65,865.9h7" stroke="#222" stroke-width="1.4" fill="none"/>
<path d="M194.05,882.7V853.3M190.55,853.3h7" stroke="#222" stroke-width="1.4" fill="none"/>
<rect x="236.10" y="933.1" width="21.9" height="69.20" fill="#978fc0" stroke="#2b1a33" stroke-width="1"/>
<rect x="258.00" y="921.2" width="21.9" height="81.10" fill="#a70f4c" stroke="#2b1a33" stroke-width="1"/>
<path d="M247.05,933.1V925.7M243.55,925.7h7" stroke="#222" stroke-width="1.4" fill="none"/>
<path d="M268.95,921.2V912.6M265.45,912.6h7" stroke="#222" stroke-width="1.4" fill="none"/>
<rect x="310.50" y="961.7" width="21.9" height="40.60" fill="#978fc0" stroke="#2b1a33" stroke-width="1"/>
<rect x="332.40" y="943.6" width="21.9" height="58.70" fill="#a70f4c" stroke="#2b1a33" stroke-width="1"/>
<path d="M321.45,961.7V955.0M317.95,955.0h7" stroke="#222" stroke-width="1.4" fill="none"/>
<path d="M343.35,943.6V936.8M339.85,936.8h7" stroke="#222" stroke-width="1.4" fill="none"/>
<rect x="385.00" y="984.7" width="21.9" height="17.60" fill="#978fc0" stroke="#2b1a33" stroke-width="1"/>
<rect x="406.90" y="977.3" width="21.9" height="25.00" fill="#a70f4c" stroke="#2b1a33" stroke-width="1"/>
<path d="M395.95,984.7V975.3M392.45,975.3h7" stroke="#222" stroke-width="1.4" fill="none"/>
<path d="M417.85,977.3V974.0M414.35,974.0h7" stroke="#222" stroke-width="1.4" fill="none"/>
<rect x="459.40" y="999.9" width="21.9" height="2.40" fill="#978fc0" stroke="#2b1a33" stroke-width="1"/>
<rect x="481.30" y="998.7" width="21.9" height="3.60" fill="#a70f4c" stroke="#2b1a33" stroke-width="1"/>
<path d="M470.35,999.9V998.5M466.85,998.5h7" stroke="#222" stroke-width="1.4" fill="none"/>
<path d="M492.25,998.7V996.0M488.75,996.0h7" stroke="#222" stroke-width="1.4" fill="none"/>
<text x="108.8" y="1021.5" font-size="14" font-weight="normal" text-anchor="middle" >NP</text>
<text x="183.6" y="1021.5" font-size="14" font-weight="normal" text-anchor="middle" >10% NP</text>
<text x="258.5" y="1021.5" font-size="14" font-weight="normal" text-anchor="middle" >1% NP</text>
<text x="332.9" y="1021.5" font-size="14" font-weight="normal" text-anchor="middle" >0.1% NP</text>
<text x="407.4" y="1021.5" font-size="14" font-weight="normal" text-anchor="middle" >0.01% NP</text>
<text x="481.8" y="1022" font-size="14" font-weight="normal" text-anchor="middle" >Deficient</text>
<text x="481.8" y="1039.8" font-size="14" font-weight="normal" text-anchor="middle" >Plasma</text>
<rect x="394.6" y="768.1" width="118.7" height="40" fill="#fff"/>
<rect x="398.6" y="774.6" width="8" height="8" fill="#978fc0" stroke="#2b1a33" stroke-width="1"/>
<rect x="398.6" y="796.9" width="8" height="8" fill="#a70f4c" stroke="#2b1a33" stroke-width="1"/>
<text x="411.2" y="781.3" font-size="13.4" font-weight="normal" text-anchor="start" >FIX FTGT AUC</text>
<text x="411.2" y="803.5" font-size="13.4" font-weight="normal" text-anchor="start" >FVIII FTGT AUC</text>
</svg>
</body></html>
